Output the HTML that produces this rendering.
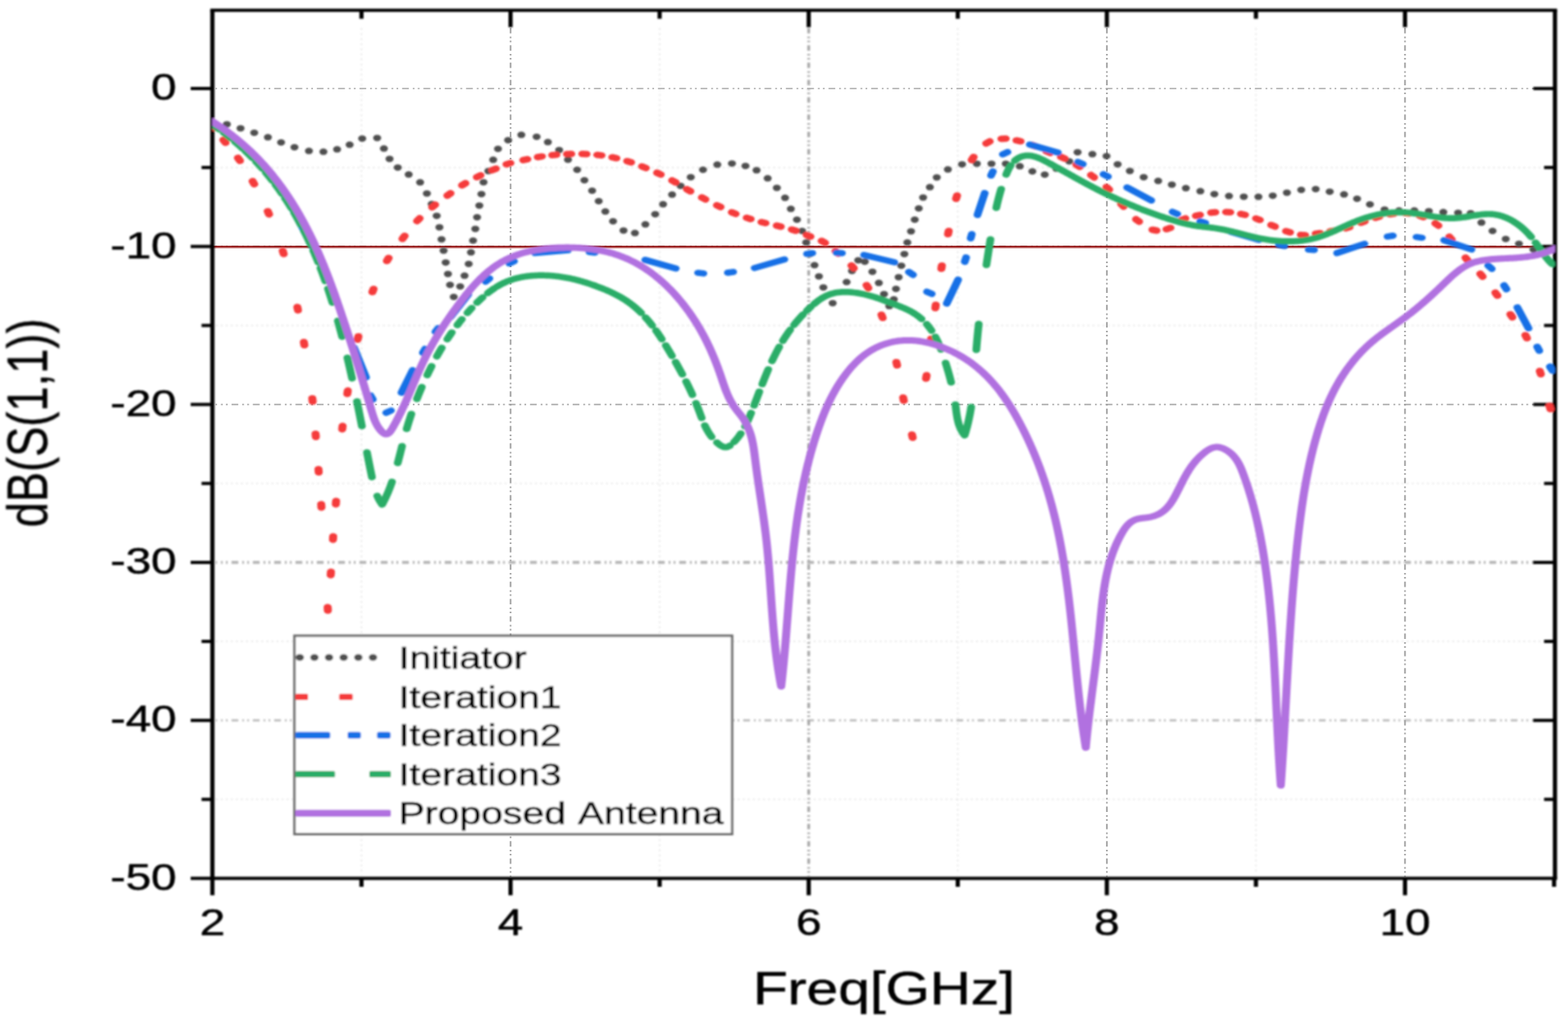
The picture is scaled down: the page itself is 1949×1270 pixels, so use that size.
<!DOCTYPE html>
<html lang="en"><head><meta charset="utf-8"><title>dB(S(1,1)) vs Freq[GHz]</title>
<style>
html,body{margin:0;padding:0;background:#fff;}
body{width:1949px;height:1270px;overflow:hidden;}
svg{display:block;}
#chart{width:1949px;height:1270px;}
</style></head><body>
<div id="chart">
<svg role="img" aria-label="Simulated return loss dB(S(1,1)) versus frequency" width="1949" height="1270" viewBox="0 0 1949 1270">
<rect width="100%" height="100%" fill="#fff"/>
<defs><filter id="soft" x="0" y="0" width="1949" height="1270" filterUnits="userSpaceOnUse"><feGaussianBlur stdDeviation="1"/></filter></defs>
<g fill="none" filter="url(#soft)">
<line x1="268.0" x2="1928.8" y1="208.15" y2="208.15" stroke="#eaeaea" stroke-width="2" stroke-dasharray="2.5 3.8"/>
<line x1="268.0" x2="1928.8" y1="404.45" y2="404.45" stroke="#eaeaea" stroke-width="2" stroke-dasharray="2.5 3.8"/>
<line x1="268.0" x2="1928.8" y1="600.75" y2="600.75" stroke="#eaeaea" stroke-width="2" stroke-dasharray="2.5 3.8"/>
<line x1="268.0" x2="1928.8" y1="797.05" y2="797.05" stroke="#eaeaea" stroke-width="2" stroke-dasharray="2.5 3.8"/>
<line x1="268.0" x2="1928.8" y1="993.35" y2="993.35" stroke="#eaeaea" stroke-width="2" stroke-dasharray="2.5 3.8"/>
<line x1="449.3" x2="449.3" y1="34.8" y2="1087.5" stroke="#eaeaea" stroke-width="2" stroke-dasharray="2.5 3.8"/>
<line x1="819.9" x2="819.9" y1="34.8" y2="1087.5" stroke="#eaeaea" stroke-width="2" stroke-dasharray="2.5 3.8"/>
<line x1="1190.5" x2="1190.5" y1="34.8" y2="1087.5" stroke="#eaeaea" stroke-width="2" stroke-dasharray="2.5 3.8"/>
<line x1="1561.1" x2="1561.1" y1="34.8" y2="1087.5" stroke="#eaeaea" stroke-width="2" stroke-dasharray="2.5 3.8"/>
<line x1="268.0" x2="1906.8" y1="698.9" y2="698.9" stroke="#b6b6b6" stroke-width="3.6" stroke-dasharray="8.4 4.9 2.2 4 2.2 4.8" stroke-dashoffset="6.7"/>
<line x1="268.0" x2="1906.8" y1="895.2" y2="895.2" stroke="#bcbcbc" stroke-width="2.7" stroke-dasharray="8.4 4.9 2.2 4 2.2 4.8" stroke-dashoffset="6.7"/>
<line x1="1005.2" x2="1005.2" y1="34.8" y2="1089.5" stroke="#a8a8a8" stroke-width="3.4" stroke-dasharray="6.6 4.2 1.8 3.2 1.8 3.9"/>
</g>
<g fill="none">
<line x1="268.0" x2="1906.8" y1="110" y2="110" stroke="#a8a8a8" stroke-width="1.7" stroke-dasharray="8.4 4.9 2.2 4 2.2 4.8" stroke-dashoffset="6.7"/>
<line x1="268.0" x2="1906.8" y1="306.3" y2="306.3" stroke="#a8a8a8" stroke-width="1.7" stroke-dasharray="8.4 4.9 2.2 4 2.2 4.8" stroke-dashoffset="6.7"/>
<line x1="268.0" x2="1906.8" y1="502.6" y2="502.6" stroke="#a8a8a8" stroke-width="1.7" stroke-dasharray="8.4 4.9 2.2 4 2.2 4.8" stroke-dashoffset="6.7"/>
<line x1="634.6" x2="634.6" y1="34.8" y2="1089.5" stroke="#9c9c9c" stroke-width="1.9" stroke-dasharray="6.6 4.2 1.8 3.2 1.8 3.9"/>
<line x1="1375.8" x2="1375.8" y1="34.8" y2="1089.5" stroke="#9c9c9c" stroke-width="1.9" stroke-dasharray="6.6 4.2 1.8 3.2 1.8 3.9"/>
<line x1="1746.4" x2="1746.4" y1="34.8" y2="1089.5" stroke="#9c9c9c" stroke-width="1.9" stroke-dasharray="6.6 4.2 1.8 3.2 1.8 3.9"/>
</g>
<line x1="264.0" x2="1932.8" y1="308.2" y2="308.2" stroke="#e2b4b4" stroke-width="1.8"/>
<line x1="264.0" x2="1932.8" y1="306.5" y2="306.5" stroke="#8b0000" stroke-width="2.0"/>
<g filter="url(#soft)">
<g stroke="#000" fill="none" stroke-linecap="butt">
<line x1="261.4" x2="1935.3999999999999" y1="12.8" y2="12.8" stroke-width="4.0"/>
<line x1="237" x2="1935.3999999999999" y1="1091.5" y2="1091.5" stroke-width="4.0"/>
<line x1="264.0" x2="264.0" y1="12.8" y2="1091.5" stroke-width="5.2"/>
<line x1="1932.8" x2="1932.8" y1="12.8" y2="1091.5" stroke-width="5.2"/>
<line x1="264" x2="264" y1="1091.5" y2="1112.5" stroke-width="5.2"/>
<line x1="449.3" x2="449.3" y1="1091.5" y2="1102.0" stroke-width="5.2"/>
<line x1="449.3" x2="449.3" y1="12.8" y2="23.3" stroke-width="5.2"/>
<line x1="634.6" x2="634.6" y1="1091.5" y2="1112.5" stroke-width="5.2"/>
<line x1="634.6" x2="634.6" y1="12.8" y2="33.8" stroke-width="5.2"/>
<line x1="819.9" x2="819.9" y1="1091.5" y2="1102.0" stroke-width="5.2"/>
<line x1="819.9" x2="819.9" y1="12.8" y2="23.3" stroke-width="5.2"/>
<line x1="1005.2" x2="1005.2" y1="1091.5" y2="1112.5" stroke-width="5.2"/>
<line x1="1005.2" x2="1005.2" y1="12.8" y2="33.8" stroke-width="5.2"/>
<line x1="1190.5" x2="1190.5" y1="1091.5" y2="1102.0" stroke-width="5.2"/>
<line x1="1190.5" x2="1190.5" y1="12.8" y2="23.3" stroke-width="5.2"/>
<line x1="1375.8" x2="1375.8" y1="1091.5" y2="1112.5" stroke-width="5.2"/>
<line x1="1375.8" x2="1375.8" y1="12.8" y2="33.8" stroke-width="5.2"/>
<line x1="1561.1" x2="1561.1" y1="1091.5" y2="1102.0" stroke-width="5.2"/>
<line x1="1561.1" x2="1561.1" y1="12.8" y2="23.3" stroke-width="5.2"/>
<line x1="1746.4" x2="1746.4" y1="1091.5" y2="1112.5" stroke-width="5.2"/>
<line x1="1746.4" x2="1746.4" y1="12.8" y2="33.8" stroke-width="5.2"/>
<line x1="1931.7" x2="1931.7" y1="1091.5" y2="1102.0" stroke-width="5.2"/>
<line x1="237.0" x2="264.0" y1="110" y2="110" stroke-width="4.0"/>
<line x1="1905.8" x2="1932.8" y1="110" y2="110" stroke-width="4.0"/>
<line x1="250.5" x2="264.0" y1="208.15" y2="208.15" stroke-width="4.0"/>
<line x1="1919.3" x2="1932.8" y1="208.15" y2="208.15" stroke-width="4.0"/>
<line x1="237.0" x2="264.0" y1="306.3" y2="306.3" stroke-width="4.0"/>
<line x1="1905.8" x2="1932.8" y1="306.3" y2="306.3" stroke-width="4.0"/>
<line x1="250.5" x2="264.0" y1="404.45" y2="404.45" stroke-width="4.0"/>
<line x1="1919.3" x2="1932.8" y1="404.45" y2="404.45" stroke-width="4.0"/>
<line x1="237.0" x2="264.0" y1="502.6" y2="502.6" stroke-width="4.0"/>
<line x1="1905.8" x2="1932.8" y1="502.6" y2="502.6" stroke-width="4.0"/>
<line x1="250.5" x2="264.0" y1="600.75" y2="600.75" stroke-width="4.0"/>
<line x1="1919.3" x2="1932.8" y1="600.75" y2="600.75" stroke-width="4.0"/>
<line x1="237.0" x2="264.0" y1="698.9" y2="698.9" stroke-width="4.0"/>
<line x1="1905.8" x2="1932.8" y1="698.9" y2="698.9" stroke-width="4.0"/>
<line x1="250.5" x2="264.0" y1="797.05" y2="797.05" stroke-width="4.0"/>
<line x1="1919.3" x2="1932.8" y1="797.05" y2="797.05" stroke-width="4.0"/>
<line x1="237.0" x2="264.0" y1="895.2" y2="895.2" stroke-width="4.0"/>
<line x1="1905.8" x2="1932.8" y1="895.2" y2="895.2" stroke-width="4.0"/>
<line x1="250.5" x2="264.0" y1="993.35" y2="993.35" stroke-width="4.0"/>
<line x1="1919.3" x2="1932.8" y1="993.35" y2="993.35" stroke-width="4.0"/>
</g>
<clipPath id="plotclip"><rect x="211.20" y="0" width="1335.04" height="1270"/></clipPath>
<g transform="scale(1.25,1)" fill="none" stroke-linecap="round" stroke-linejoin="round" clip-path="url(#plotclip)">
<g fill="#505050" stroke="none">
<circle cx="225.60" cy="154.40" r="4.0"/>
<circle cx="239.20" cy="159.40" r="4.0"/>
<circle cx="252.80" cy="165.00" r="4.0"/>
<circle cx="266.40" cy="170.60" r="4.0"/>
<circle cx="279.52" cy="177.00" r="4.0"/>
<circle cx="292.80" cy="183.00" r="4.0"/>
<circle cx="307.20" cy="187.60" r="4.0"/>
<circle cx="321.60" cy="188.60" r="4.0"/>
<circle cx="335.20" cy="185.60" r="4.0"/>
<circle cx="347.68" cy="179.80" r="4.0"/>
<circle cx="360.16" cy="172.20" r="4.0"/>
<circle cx="375.04" cy="171.40" r="4.0"/>
<circle cx="381.76" cy="184.60" r="4.0"/>
<circle cx="387.36" cy="197.40" r="4.0"/>
<circle cx="395.52" cy="208.20" r="4.0"/>
<circle cx="406.40" cy="216.80" r="4.0"/>
<circle cx="417.76" cy="226.60" r="4.0"/>
<circle cx="424.48" cy="240.40" r="4.0"/>
<circle cx="429.28" cy="253.60" r="4.0"/>
<circle cx="434.24" cy="268.20" r="4.0"/>
<circle cx="436.96" cy="282.40" r="4.0"/>
<circle cx="439.04" cy="297.40" r="4.0"/>
<circle cx="441.12" cy="311.40" r="4.0"/>
<circle cx="443.20" cy="326.20" r="4.0"/>
<circle cx="445.44" cy="340.40" r="4.0"/>
<circle cx="447.52" cy="354.00" r="4.0"/>
<circle cx="451.20" cy="369.00" r="4.0"/>
<circle cx="457.60" cy="356.00" r="4.0"/>
<circle cx="461.92" cy="342.60" r="4.0"/>
<circle cx="466.08" cy="328.00" r="4.0"/>
<circle cx="468.32" cy="313.60" r="4.0"/>
<circle cx="470.40" cy="299.00" r="4.0"/>
<circle cx="472.64" cy="284.40" r="4.0"/>
<circle cx="474.40" cy="270.00" r="4.0"/>
<circle cx="476.64" cy="255.40" r="4.0"/>
<circle cx="478.72" cy="241.20" r="4.0"/>
<circle cx="480.80" cy="226.40" r="4.0"/>
<circle cx="485.60" cy="212.60" r="4.0"/>
<circle cx="490.40" cy="198.60" r="4.0"/>
<circle cx="495.20" cy="185.00" r="4.0"/>
<circle cx="505.28" cy="174.20" r="4.0"/>
<circle cx="518.40" cy="167.60" r="4.0"/>
<circle cx="533.60" cy="170.00" r="4.0"/>
<circle cx="544.80" cy="176.60" r="4.0"/>
<circle cx="556.00" cy="186.40" r="4.0"/>
<circle cx="564.80" cy="198.40" r="4.0"/>
<circle cx="573.92" cy="211.00" r="4.0"/>
<circle cx="581.12" cy="224.00" r="4.0"/>
<circle cx="588.80" cy="237.00" r="4.0"/>
<circle cx="595.36" cy="250.00" r="4.0"/>
<circle cx="601.92" cy="262.80" r="4.0"/>
<circle cx="609.60" cy="275.00" r="4.0"/>
<circle cx="620.00" cy="286.40" r="4.0"/>
<circle cx="631.36" cy="289.60" r="4.0"/>
<circle cx="641.76" cy="278.80" r="4.0"/>
<circle cx="651.52" cy="266.20" r="4.0"/>
<circle cx="659.36" cy="253.80" r="4.0"/>
<circle cx="668.32" cy="241.80" r="4.0"/>
<circle cx="676.80" cy="231.00" r="4.0"/>
<circle cx="686.88" cy="220.20" r="4.0"/>
<circle cx="699.04" cy="211.00" r="4.0"/>
<circle cx="713.28" cy="204.60" r="4.0"/>
<circle cx="727.84" cy="203.20" r="4.0"/>
<circle cx="741.28" cy="206.20" r="4.0"/>
<circle cx="752.32" cy="211.60" r="4.0"/>
<circle cx="763.36" cy="221.60" r="4.0"/>
<circle cx="772.48" cy="233.40" r="4.0"/>
<circle cx="780.64" cy="245.80" r="4.0"/>
<circle cx="786.40" cy="259.60" r="4.0"/>
<circle cx="792.48" cy="273.00" r="4.0"/>
<circle cx="797.60" cy="287.00" r="4.0"/>
<circle cx="801.68" cy="301.30" r="4.0"/>
<circle cx="805.60" cy="315.50" r="4.0"/>
<circle cx="809.92" cy="329.50" r="4.0"/>
<circle cx="814.32" cy="343.40" r="4.0"/>
<circle cx="818.72" cy="357.20" r="4.0"/>
<circle cx="828.00" cy="376.70" r="4.0"/>
<circle cx="841.84" cy="350.50" r="4.0"/>
<circle cx="847.20" cy="336.70" r="4.0"/>
<circle cx="853.44" cy="323.40" r="4.0"/>
<circle cx="859.92" cy="325.20" r="4.0"/>
<circle cx="867.52" cy="337.70" r="4.0"/>
<circle cx="873.92" cy="351.60" r="4.0"/>
<circle cx="879.04" cy="365.40" r="4.0"/>
<circle cx="884.32" cy="380.30" r="4.0"/>
<circle cx="888.80" cy="372.00" r="4.0"/>
<circle cx="890.96" cy="359.00" r="4.0"/>
<circle cx="893.60" cy="344.40" r="4.0"/>
<circle cx="896.24" cy="330.20" r="4.0"/>
<circle cx="899.28" cy="315.70" r="4.0"/>
<circle cx="902.24" cy="301.30" r="4.0"/>
<circle cx="905.92" cy="287.40" r="4.0"/>
<circle cx="909.60" cy="273.00" r="4.0"/>
<circle cx="913.60" cy="259.00" r="4.0"/>
<circle cx="917.92" cy="245.40" r="4.0"/>
<circle cx="924.64" cy="232.60" r="4.0"/>
<circle cx="931.52" cy="220.40" r="4.0"/>
<circle cx="942.56" cy="210.60" r="4.0"/>
<circle cx="956.64" cy="204.20" r="4.0"/>
<circle cx="971.36" cy="203.40" r="4.0"/>
<circle cx="985.92" cy="203.40" r="4.0"/>
<circle cx="1000.16" cy="203.40" r="4.0"/>
<circle cx="1014.08" cy="206.60" r="4.0"/>
<circle cx="1026.56" cy="213.00" r="4.0"/>
<circle cx="1038.88" cy="217.00" r="4.0"/>
<circle cx="1050.40" cy="209.60" r="4.0"/>
<circle cx="1063.20" cy="200.40" r="4.0"/>
<circle cx="1071.52" cy="189.20" r="4.0"/>
<circle cx="1086.24" cy="191.60" r="4.0"/>
<circle cx="1100.32" cy="194.00" r="4.0"/>
<circle cx="1111.36" cy="204.20" r="4.0"/>
<circle cx="1123.52" cy="212.40" r="4.0"/>
<circle cx="1137.28" cy="220.20" r="4.0"/>
<circle cx="1151.68" cy="224.80" r="4.0"/>
<circle cx="1165.28" cy="229.40" r="4.0"/>
<circle cx="1179.20" cy="233.80" r="4.0"/>
<circle cx="1193.60" cy="237.60" r="4.0"/>
<circle cx="1207.52" cy="241.20" r="4.0"/>
<circle cx="1222.08" cy="243.60" r="4.0"/>
<circle cx="1236.80" cy="244.40" r="4.0"/>
<circle cx="1251.36" cy="244.60" r="4.0"/>
<circle cx="1265.60" cy="243.20" r="4.0"/>
<circle cx="1279.68" cy="239.40" r="4.0"/>
<circle cx="1293.92" cy="236.00" r="4.0"/>
<circle cx="1308.32" cy="235.00" r="4.0"/>
<circle cx="1322.24" cy="238.20" r="4.0"/>
<circle cx="1336.48" cy="241.60" r="4.0"/>
<circle cx="1349.44" cy="247.00" r="4.0"/>
<circle cx="1362.24" cy="254.00" r="4.0"/>
<circle cx="1376.80" cy="260.40" r="4.0"/>
<circle cx="1391.20" cy="261.50" r="4.0"/>
<circle cx="1406.40" cy="261.50" r="4.0"/>
<circle cx="1420.80" cy="262.40" r="4.0"/>
<circle cx="1435.20" cy="263.60" r="4.0"/>
<circle cx="1449.92" cy="264.40" r="4.0"/>
<circle cx="1462.40" cy="265.00" r="4.0"/>
<circle cx="1473.12" cy="276.60" r="4.0"/>
<circle cx="1484.16" cy="287.00" r="4.0"/>
<circle cx="1497.28" cy="297.00" r="4.0"/>
<circle cx="1510.40" cy="303.00" r="4.0"/>
<circle cx="1524.80" cy="310.00" r="4.0"/>
<circle cx="1539.20" cy="311.00" r="4.0"/>
</g>
<g stroke="#f53b3b" stroke-width="8.0">
<path d="M210.92,155.20L213.08,158.80"/>
<path d="M222.09,173.82L224.31,177.38"/>
<path d="M236.56,196.17L238.64,199.83"/>
<path d="M251.14,225.08L252.86,228.92"/>
<path d="M266.19,262.42L267.57,266.38"/>
<path d="M281.09,311.56L282.11,315.64"/>
<path d="M295.64,381.53L296.36,385.67"/>
<path d="M302.12,424.92L302.68,429.08"/>
<path d="M310.52,494.91L310.92,499.09"/>
<path d="M313.78,538.90L314.06,543.10"/>
<path d="M316.67,582.90L316.93,587.10"/>
<path d="M319.40,626.50L319.64,630.70"/>
<path d="M325.82,754.50L326.02,758.70"/>
<path d="M328.83,714.70L329.09,710.50"/>
<path d="M331.08,670.70L331.32,666.50"/>
<path d="M333.94,626.70L334.22,622.50"/>
<path d="M340.29,533.49L340.67,529.31"/>
<path d="M345.32,489.48L345.88,485.32"/>
<path d="M355.58,422.06L356.42,417.94"/>
<path d="M370.25,363.00L371.51,359.00"/>
<path d="M384.70,324.30L386.50,320.50"/>
<path d="M400.17,296.79L402.39,293.21"/>
<path d="M414.71,274.66L417.29,271.34"/>
<path d="M429.74,257.51L432.66,254.49"/>
<path d="M444.84,243.01L447.96,240.19"/>
<path d="M459.45,230.27L462.79,227.73"/>
<path d="M474.21,220.09L477.79,217.91"/>
<path d="M489.34,211.58L493.06,209.62"/>
<path d="M503.65,204.17L507.55,202.63"/>
<path d="M520.37,198.95L524.43,197.85"/>
<path d="M534.74,195.21L538.86,194.39"/>
<path d="M549.11,192.84L553.29,192.36"/>
<path d="M563.82,191.49L568.02,191.31"/>
<path d="M579.02,191.30L583.22,191.50"/>
<path d="M593.92,192.48L598.08,193.12"/>
<path d="M608.86,195.44L612.90,196.56"/>
<path d="M623.65,200.22L627.55,201.78"/>
<path d="M638.44,206.86L642.20,208.74"/>
<path d="M653.39,214.73L657.01,216.87"/>
<path d="M668.36,224.20L671.80,226.60"/>
<path d="M683.09,235.18L686.51,237.62"/>
<path d="M697.93,245.44L701.43,247.76"/>
<path d="M712.93,255.11L716.51,257.29"/>
<path d="M727.73,263.85L731.47,265.75"/>
<path d="M742.53,270.62L746.43,272.18"/>
<path d="M757.20,275.96L761.20,277.24"/>
<path d="M772.40,280.37L776.40,281.63"/>
<path d="M787.33,285.21L791.23,286.79"/>
<path d="M802.12,292.07L805.88,293.93"/>
<path d="M817.01,299.38L820.43,301.82"/>
<path d="M830.79,312.08L833.69,315.12"/>
<path d="M846.61,329.90L849.07,333.30"/>
<path d="M861.63,354.32L863.49,358.08"/>
<path d="M876.48,391.10L877.76,395.10"/>
<path d="M891.27,449.94L892.09,454.06"/>
<path d="M898.04,493.93L898.76,498.07"/>
<path d="M906.81,539.94L907.59,544.06"/>
<path d="M920.82,470.48L921.42,466.32"/>
<path d="M925.38,425.09L925.82,420.91"/>
<path d="M930.08,382.89L930.56,378.71"/>
<path d="M936.03,334.08L936.61,329.92"/>
<path d="M942.69,291.07L943.39,286.93"/>
<path d="M950.68,247.03L951.72,242.97"/>
<path d="M966.22,198.86L968.18,195.14"/>
<path d="M980.67,178.19L984.13,175.81"/>
<path d="M995.82,172.52L1000.02,172.28"/>
<path d="M1010.78,174.43L1014.82,175.57"/>
<path d="M1026.10,180.10L1029.90,181.90"/>
<path d="M1040.54,188.03L1044.26,189.97"/>
<path d="M1054.97,194.96L1058.63,197.04"/>
<path d="M1070.34,204.72L1073.66,207.28"/>
<path d="M1084.87,217.56L1087.93,220.44"/>
<path d="M1100.25,232.39L1102.95,235.61"/>
<path d="M1114.75,253.31L1117.25,256.69"/>
<path d="M1129.68,272.56L1132.72,275.44"/>
<path d="M1145.96,285.50L1150.04,286.50"/>
<path d="M1159.99,284.82L1163.85,283.18"/>
<path d="M1174.95,273.39L1178.65,271.41"/>
<path d="M1189.18,268.17L1193.22,267.03"/>
<path d="M1204.32,264.27L1208.48,263.73"/>
<path d="M1219.19,263.43L1223.37,263.77"/>
<path d="M1233.99,265.81L1238.01,266.99"/>
<path d="M1248.98,271.50L1252.78,273.30"/>
<path d="M1264.06,279.63L1267.78,281.57"/>
<path d="M1278.84,287.26L1282.76,288.74"/>
<path d="M1293.58,291.87L1297.78,292.13"/>
<path d="M1308.33,290.36L1312.47,289.64"/>
<path d="M1322.76,287.48L1326.84,286.52"/>
<path d="M1338.02,283.71L1341.98,282.29"/>
<path d="M1353.28,276.84L1357.12,275.16"/>
<path d="M1367.62,270.69L1371.58,269.31"/>
<path d="M1381.93,266.35L1386.07,265.65"/>
<path d="M1397.11,264.78L1401.29,265.22"/>
<path d="M1411.69,268.13L1415.51,269.87"/>
<path d="M1427.25,277.59L1430.35,280.41"/>
<path d="M1441.19,294.28L1443.61,297.72"/>
<path d="M1457.23,320.26L1459.57,323.74"/>
<path d="M1471.94,340.27L1474.30,343.73"/>
<path d="M1486.93,363.79L1489.07,367.41"/>
<path d="M1501.85,390.57L1503.91,394.23"/>
<path d="M1516.76,416.47L1518.44,420.33"/>
<path d="M1531.14,460.97L1532.22,465.03"/>
<path d="M1540.83,504.35L1541.73,508.45"/>
</g>
<g stroke="#176fe6" stroke-width="7.7">
<path d="M211.20,152.00L240.00,180.00"/>
<path d="M255.93,200.88L259.27,205.12"/>
<path d="M273.11,225.63L275.69,230.37"/>
<path d="M289.60,256.00L310.40,306.00"/>
<path d="M320.67,332.47L322.53,337.53"/>
<path d="M331.99,367.42L333.61,372.58"/>
<path d="M352.00,432.00L364.00,469.00"/>
<path d="M368.46,491.55L370.74,496.45"/>
<path d="M384.05,512.93L388.75,510.27"/>
<path d="M399.20,488.00L410.40,460.00"/>
<path d="M420.47,438.45L422.73,433.55"/>
<path d="M432.96,412.29L435.84,407.71"/>
<path d="M448.00,394.00L465.60,366.00"/>
<path d="M482.93,349.94L486.67,346.06"/>
<path d="M506.44,327.31L511.16,324.69"/>
<path d="M532.00,314.50L564.80,311.00"/>
<path d="M586.13,313.22L591.47,313.98"/>
<path d="M641.60,323.00L672.00,333.60"/>
<path d="M694.13,339.01L699.47,339.79"/>
<path d="M723.74,338.86L729.06,337.94"/>
<path d="M750.40,333.00L780.00,322.40"/>
<path d="M802.47,315.51L807.77,314.49"/>
<path d="M831.87,314.05L837.25,314.55"/>
<path d="M859.28,316.90L889.28,325.90"/>
<path d="M903.78,338.05L907.90,341.55"/>
<path d="M921.79,362.61L926.53,365.19"/>
<path d="M941.44,377.20L952.80,347.50"/>
<path d="M959.29,325.21L960.71,319.99"/>
<path d="M965.17,296.23L966.35,290.97"/>
<path d="M972.00,267.00L979.20,240.00"/>
<path d="M985.44,218.12L987.36,213.08"/>
<path d="M997.21,191.79L1001.83,189.01"/>
<path d="M1024.00,179.60L1052.00,189.60"/>
<path d="M1072.03,201.31L1076.77,203.89"/>
<path d="M1097.26,216.52L1101.78,219.48"/>
<path d="M1120.80,233.00L1144.80,249.00"/>
<path d="M1165.96,263.29L1170.68,265.91"/>
<path d="M1193.50,274.98L1198.50,277.02"/>
<path d="M1224.00,288.00L1252.00,298.00"/>
<path d="M1271.79,304.31L1277.01,305.69"/>
<path d="M1301.30,310.26L1306.70,310.54"/>
<path d="M1329.60,314.40L1356.80,303.00"/>
<path d="M1379.75,293.93L1385.05,292.87"/>
<path d="M1408.53,294.57L1413.87,295.43"/>
<path d="M1436.00,298.60L1463.20,310.00"/>
<path d="M1479.80,329.99L1483.40,334.01"/>
<path d="M1495.55,354.61L1498.05,359.39"/>
<path d="M1508.80,382.00L1520.00,408.00"/>
<path d="M1528.50,430.93L1530.70,435.87"/>
<path d="M1541.15,455.60L1543.65,460.40"/>
</g>
<g stroke="#2aad67" stroke-width="7.7">
<path d="M211.49,155.09 L212.43,155.89 L213.36,156.69 L214.29,157.50 L215.21,158.31 L216.13,159.12 L217.05,159.94 L217.96,160.76"/>
<path d="M222.44,164.91 L223.33,165.75 L224.21,166.59 L225.08,167.44 L225.95,168.29 L226.82,169.14 L227.68,169.99 L228.54,170.85 L229.39,171.71"/>
<path d="M233.59,176.07 L234.42,176.95 L235.24,177.83 L236.06,178.71 L236.88,179.60 L237.69,180.49 L238.50,181.39 L239.30,182.29 L240.10,183.19 L240.89,184.09"/>
<path d="M244.03,187.73 L244.80,188.65 L245.57,189.57 L246.34,190.49 L247.10,191.41 L247.86,192.34 L248.61,193.27 L249.36,194.21 L250.11,195.14 L250.85,196.08"/>
<path d="M254.50,200.82 L255.22,201.77 L255.94,202.73 L256.65,203.69 L257.36,204.65 L258.06,205.62 L258.76,206.59 L259.46,207.56 L260.15,208.53 L260.84,209.50"/>
<path d="M264.23,214.41 L264.90,215.40 L265.56,216.40 L266.22,217.39 L266.88,218.39 L267.53,219.39 L268.18,220.39 L268.82,221.39 L269.47,222.40 L270.10,223.40 L270.74,224.41"/>
<path d="M273.86,229.50 L274.48,230.52 L275.09,231.55 L275.69,232.57 L276.30,233.60 L276.90,234.64 L277.50,235.67 L278.09,236.71 L278.68,237.74 L279.27,238.78 L279.85,239.83 L280.43,240.87"/>
<path d="M283.29,246.12 L283.85,247.18 L284.41,248.23 L284.96,249.29 L285.51,250.36 L286.06,251.42 L286.61,252.48 L287.15,253.55 L287.69,254.62 L288.23,255.69 L288.76,256.76 L289.29,257.84 L289.82,258.91"/>
<path d="M292.41,264.32 L292.92,265.40 L293.43,266.49 L293.93,267.58 L294.43,268.67 L294.93,269.76 L295.42,270.86 L295.92,271.95 L296.41,273.05 L296.89,274.15 L297.38,275.25 L297.86,276.35 L298.33,277.45 L298.81,278.56 L299.28,279.66"/>
<path d="M302.06,286.33 L302.51,287.45 L302.97,288.56 L303.41,289.68 L303.86,290.80 L304.30,291.92 L304.74,293.05 L305.18,294.17 L305.62,295.29 L306.05,296.42 L306.48,297.55 L306.91,298.68 L307.33,299.81 L307.76,300.94 L308.18,302.07 L308.60,303.20 L309.01,304.34"/>
<path d="M311.46,311.17 L311.85,312.31 L312.25,313.45 L312.65,314.60 L313.04,315.74 L313.43,316.89 L313.81,318.03 L314.20,319.18 L314.58,320.33 L314.96,321.48 L315.34,322.63 L315.72,323.78 L316.09,324.93 L316.46,326.09"/>
<path d="M318.65,333.02 L319.01,334.18 L319.37,335.34 L319.72,336.50 L320.07,337.66 L320.42,338.82 L320.77,339.98 L321.11,341.14 L321.45,342.31 L321.80,343.47 L322.14,344.63 L322.47,345.80 L322.81,346.97 L323.14,348.13 L323.47,349.30"/>
<path d="M326.06,358.65 L326.38,359.82 L326.69,360.99 L327.00,362.16 L327.31,363.33 L327.62,364.51 L327.93,365.68 L328.24,366.85 L328.54,368.02 L328.84,369.20 L329.14,370.37 L329.44,371.55 L329.74,372.72 L330.03,373.89 L330.33,375.07 L330.62,376.24"/>
<path d="M335.91,398.58 L336.17,399.76 L336.44,400.93 L336.70,402.11 L336.96,403.28 L337.22,404.46 L337.48,405.64 L337.74,406.81 L337.99,407.99 L338.25,409.16 L338.50,410.34 L338.75,411.51 L339.01,412.69 L339.26,413.86 L339.51,415.04 L339.75,416.21 L340.00,417.39 L340.25,418.56"/>
<path d="M345.40,444.41 L345.62,445.59 L345.85,446.77 L346.07,447.94 L346.29,449.12 L346.51,450.30 L346.73,451.47 L346.95,452.65 L347.16,453.83 L347.38,455.00 L347.60,456.18 L347.81,457.36 L348.03,458.53 L348.24,459.71 L348.45,460.89 L348.66,462.07 L348.88,463.25 L349.09,464.42 L349.30,465.60 L349.50,466.78 L349.71,467.96 L349.92,469.14 L350.13,470.32"/>
<path d="M354.93,498.70 L355.12,499.88 L355.31,501.07 L355.51,502.25 L355.70,503.44 L355.89,504.63 L356.08,505.82 L356.27,507.00 L356.47,508.19 L356.66,509.38 L356.85,510.57 L357.04,511.76 L357.23,512.95 L357.42,514.14 L357.61,515.33 L357.79,516.52 L357.98,517.71 L358.17,518.90 L358.36,520.10 L358.55,521.29 L358.73,522.48 L358.92,523.68 L359.11,524.87 L359.30,526.06 L359.48,527.26 L359.67,528.45 L359.86,529.65"/>
<path d="M364.88,562.02 L365.06,563.22 L365.25,564.42 L365.44,565.62 L365.63,566.81 L365.82,568.01 L366.01,569.21 L366.20,570.41 L366.39,571.60 L366.58,572.80 L366.77,574.00 L366.96,575.19 L367.15,576.39 L367.34,577.58 L367.53,578.77 L367.73,579.97 L367.92,581.16 L368.11,582.35 L368.31,583.54 L368.50,584.73 L368.70,585.92 L368.89,587.11 L369.09,588.30 L369.29,589.49 L369.48,590.68 L369.68,591.86 L369.88,593.05"/>
<path d="M375.13,616.22 L375.52,617.33 L375.93,618.44 L376.36,619.53 L376.81,620.62 L377.29,621.71 L377.78,622.78 L378.30,623.85 L378.84,624.91 L379.41,625.96 L380.00,627.00 L380.48,625.89 L380.95,624.77 L381.41,623.65 L381.87,622.53 L382.31,621.41 L382.75,620.29 L383.18,619.17 L383.61,618.04 L384.03,616.91 L384.44,615.78 L384.84,614.65 L385.24,613.52 L385.63,612.38 L386.01,611.25 L386.39,610.11 L386.76,608.97 L387.12,607.83 L387.48,606.69 L387.84,605.55 L388.18,604.40 L388.53,603.25 L388.86,602.11 L389.19,600.96 L389.52,599.81 L389.84,598.66"/>
<path d="M395.46,575.42 L395.71,574.25 L395.96,573.08 L396.21,571.90 L396.46,570.73 L396.70,569.56 L396.94,568.39 L397.19,567.21 L397.43,566.04 L397.67,564.86 L397.91,563.69 L398.15,562.51 L398.38,561.34 L398.62,560.16 L398.86,558.98 L399.10,557.81 L399.34,556.63 L399.58,555.45 L399.82,554.27"/>
<path d="M404.36,533.09 L404.63,531.91 L404.91,530.74 L405.19,529.56 L405.47,528.39 L405.76,527.22 L406.05,526.04 L406.34,524.87 L406.63,523.70 L406.93,522.53 L407.23,521.35 L407.54,520.18 L407.84,519.01 L408.15,517.85 L408.46,516.68 L408.78,515.51 L409.09,514.34"/>
<path d="M414.55,495.77 L414.91,494.62 L415.28,493.46 L415.65,492.31 L416.02,491.16 L416.39,490.01 L416.77,488.87 L417.15,487.72 L417.53,486.57 L417.91,485.43 L418.30,484.29 L418.69,483.14 L419.08,482.00 L419.47,480.86"/>
<path d="M424.81,466.17 L425.24,465.05 L425.67,463.93 L426.10,462.81 L426.54,461.70 L426.98,460.58 L427.42,459.47 L427.86,458.36 L428.30,457.25 L428.75,456.14 L429.20,455.03"/>
<path d="M434.35,442.97 L434.83,441.88 L435.32,440.79 L435.81,439.71 L436.31,438.63 L436.81,437.55 L437.31,436.47 L437.82,435.39 L438.33,434.32 L438.84,433.24 L439.36,432.17"/>
<path d="M444.73,421.54 L445.29,420.49 L445.85,419.44 L446.41,418.39 L446.98,417.34 L447.56,416.29 L448.14,415.25 L448.72,414.21 L449.31,413.16"/>
<path d="M454.79,403.88 L455.42,402.86 L456.06,401.84 L456.70,400.82 L457.35,399.80 L458.00,398.79 L458.65,397.77 L459.31,396.76"/>
<path d="M464.78,388.74 L465.48,387.75 L466.20,386.76 L466.91,385.77 L467.64,384.78 L468.36,383.80 L469.10,382.81"/>
<path d="M474.39,376.01 L475.17,375.06 L475.95,374.11 L476.75,373.17 L477.54,372.23 L478.35,371.30 L479.16,370.38 L479.98,369.47"/>
<path d="M485.04,364.18 L485.91,363.33 L486.79,362.50 L487.67,361.67 L488.56,360.86 L489.46,360.07 L490.37,359.28 L491.28,358.51"/>
<path d="M494.08,356.29 L495.02,355.57 L495.98,354.88 L496.95,354.20 L497.92,353.54 L498.90,352.89 L499.89,352.26 L500.89,351.65 L501.90,351.06 L502.92,350.49 L503.95,349.94 L504.98,349.40 L506.03,348.89 L507.09,348.40 L508.15,347.93 L509.22,347.47 L510.31,347.04 L511.40,346.63 L512.49,346.24 L513.60,345.86 L514.71,345.51 L515.83,345.17 L516.96,344.86 L518.10,344.56 L519.24,344.28 L520.39,344.02 L521.54,343.78 L522.70,343.55 L523.86,343.35 L525.03,343.16 L526.20,342.99 L527.38,342.83 L528.57,342.69 L529.75,342.57 L530.94,342.47 L532.14,342.38 L533.33,342.31 L534.53,342.25 L535.74,342.21 L536.94,342.19 L538.15,342.18 L539.36,342.18 L540.57,342.20 L541.78,342.24 L542.99,342.29 L544.21,342.35 L545.42,342.43 L546.64,342.53 L547.85,342.63 L549.07,342.76 L550.28,342.89 L551.49,343.04 L552.70,343.20 L553.92,343.37 L555.12,343.56 L556.33,343.76 L557.54,343.97 L558.74,344.19 L559.94,344.43 L561.13,344.68 L562.33,344.94 L563.52,345.21 L564.70,345.49 L565.88,345.78 L567.06,346.09 L568.23,346.40 L569.40,346.73 L570.57,347.06 L571.72,347.41 L572.88,347.76 L574.03,348.13 L575.17,348.51 L576.32,348.89 L577.45,349.28 L578.59,349.68 L579.72,350.10 L580.84,350.51 L581.97,350.94 L583.08,351.38 L584.20,351.82 L585.31,352.27 L586.42,352.73 L587.53,353.20 L588.63,353.67 L589.74,354.15 L590.84,354.64 L591.93,355.13 L593.03,355.63 L594.12,356.14 L595.21,356.65 L596.29,357.17 L597.38,357.70 L598.46,358.23 L599.53,358.77 L600.61,359.32 L601.67,359.87 L602.74,360.44 L603.80,361.01 L604.85,361.59 L605.90,362.17 L606.94,362.77 L607.98,363.37 L609.01,363.99 L610.03,364.61 L611.05,365.24 L612.06,365.88 L613.06,366.52 L614.06,367.18 L615.05,367.85 L616.03,368.53 L617.00,369.21 L617.97,369.91 L618.92,370.62 L619.87,371.33 L620.81,372.06 L621.74,372.80 L622.66,373.55 L623.56,374.31 L624.46,375.08 L625.35,375.86 L626.23,376.66 L627.10,377.46 L627.96,378.27 L628.81,379.10 L629.65,379.93 L630.48,380.78 L631.30,381.63 L632.11,382.49 L632.91,383.37 L633.71,384.25 L634.49,385.14 L635.27,386.04 L636.04,386.95 L636.80,387.86 L637.55,388.79"/>
<path d="M641.90,394.50 L642.60,395.47 L643.29,396.45 L643.97,397.44 L644.65,398.44 L645.32,399.44 L645.99,400.45 L646.65,401.46 L647.30,402.48 L647.94,403.50 L648.58,404.53"/>
<path d="M652.31,410.81 L652.91,411.86 L653.51,412.93 L654.10,413.99 L654.69,415.06 L655.27,416.14 L655.85,417.21 L656.42,418.29 L656.99,419.37 L657.56,420.46 L658.12,421.54"/>
<path d="M661.96,429.18 L662.50,430.28 L663.04,431.37 L663.57,432.47 L664.10,433.56 L664.62,434.66 L665.15,435.75 L665.67,436.85 L666.19,437.94 L666.71,439.04 L667.23,440.13 L667.74,441.22 L668.26,442.31"/>
<path d="M671.79,449.95 L672.29,451.04 L672.78,452.13 L673.28,453.22 L673.77,454.31 L674.25,455.40 L674.74,456.49 L675.22,457.58 L675.70,458.68 L676.18,459.77 L676.66,460.86 L677.13,461.95 L677.60,463.04 L678.07,464.14 L678.54,465.23"/>
<path d="M682.18,474.01 L682.63,475.11 L683.07,476.22 L683.51,477.32 L683.94,478.43 L684.38,479.53 L684.81,480.64 L685.23,481.75 L685.66,482.86 L686.08,483.97 L686.50,485.08 L686.92,486.20 L687.33,487.31 L687.74,488.43 L688.15,489.55 L688.55,490.67"/>
<path d="M692.06,500.85 L692.44,501.99 L692.81,503.13 L693.18,504.28 L693.54,505.43 L693.90,506.58 L694.26,507.73 L694.62,508.89 L694.97,510.04 L695.32,511.20 L695.67,512.37 L696.01,513.53 L696.36,514.70 L696.70,515.86 L697.05,517.03 L697.40,518.19 L697.76,519.36"/>
<path d="M700.83,528.60 L701.26,529.74 L701.70,530.88 L702.16,532.01 L702.62,533.13 L703.11,534.25 L703.61,535.36 L704.13,536.46 L704.67,537.56 L705.23,538.65 L705.80,539.73 L706.40,540.80 L707.02,541.86 L707.67,542.91"/>
<path d="M712.90,549.96 L713.77,550.92 L714.65,551.84 L715.56,552.71 L716.49,553.51 L717.43,554.21 L718.38,554.81 L719.33,555.27 L720.29,555.59 L721.23,555.73 L722.17,555.69 L723.10,555.46 L724.02,555.06 L724.92,554.52 L725.80,553.84"/>
<path d="M729.96,549.23 L730.72,548.20 L731.47,547.16 L732.19,546.11 L732.90,545.06 L733.58,544.01 L734.24,542.95 L734.88,541.89 L735.51,540.82 L736.11,539.75 L736.70,538.67"/>
<path d="M740.87,529.93 L741.33,528.82 L741.78,527.71 L742.22,526.60 L742.65,525.48 L743.07,524.36 L743.49,523.24 L743.89,522.12 L744.29,520.99 L744.68,519.86 L745.07,518.73 L745.45,517.60 L745.83,516.46 L746.20,515.33 L746.57,514.19 L746.94,513.05"/>
<path d="M749.82,503.90 L750.17,502.75 L750.53,501.60 L750.88,500.45 L751.24,499.29 L751.59,498.14 L751.94,496.99 L752.30,495.84 L752.65,494.68 L753.00,493.53 L753.35,492.37 L753.71,491.22 L754.06,490.06 L754.41,488.91 L754.77,487.75 L755.12,486.60"/>
<path d="M757.98,477.36 L758.34,476.20 L758.70,475.05 L759.07,473.90 L759.44,472.74 L759.80,471.59 L760.17,470.44 L760.55,469.29 L760.92,468.14 L761.29,466.99 L761.67,465.84 L762.05,464.70 L762.43,463.55 L762.82,462.41 L763.21,461.26 L763.60,460.12 L763.99,458.98"/>
<path d="M767.65,448.77 L768.07,447.65 L768.50,446.52 L768.93,445.40 L769.36,444.28 L769.80,443.16 L770.24,442.05 L770.69,440.94 L771.14,439.82 L771.59,438.72 L772.05,437.61 L772.52,436.50 L772.98,435.40 L773.46,434.30 L773.93,433.21 L774.41,432.11 L774.90,431.02"/>
<path d="M778.45,423.46 L778.98,422.39 L779.51,421.32 L780.05,420.26 L780.60,419.20 L781.15,418.14 L781.71,417.09 L782.28,416.04 L782.85,415.00 L783.42,413.96 L784.01,412.92 L784.60,411.88 L785.19,410.85 L785.79,409.83"/>
<path d="M789.55,403.73 L790.19,402.73 L790.85,401.73 L791.51,400.73 L792.18,399.74 L792.85,398.75 L793.54,397.76 L794.23,396.78 L794.92,395.79 L795.62,394.82 L796.33,393.84 L797.05,392.87 L797.77,391.90 L798.50,390.94"/>
<path d="M802.26,386.16 L803.04,385.21 L803.82,384.27 L804.61,383.33 L805.40,382.39 L806.20,381.45"/>
<path d="M809.50,377.79 L810.34,376.90 L811.20,376.02 L812.07,375.16 L812.95,374.32 L813.84,373.49 L814.74,372.69 L815.65,371.91 L816.58,371.14 L817.52,370.41 L818.47,369.70 L819.43,369.02 L820.41,368.37 L821.41,367.75 L822.42,367.17 L823.44,366.61 L824.48,366.10 L825.54,365.62 L826.62,365.18 L827.71,364.79 L828.81,364.43 L829.94,364.11 L831.07,363.83 L832.22,363.58 L833.38,363.38 L834.56,363.20 L835.74,363.06 L836.93,362.96 L838.13,362.88 L839.34,362.84 L840.55,362.83 L841.77,362.84 L842.99,362.89 L844.22,362.96 L845.45,363.06 L846.68,363.18 L847.91,363.33 L849.14,363.50 L850.37,363.69 L851.59,363.90 L852.82,364.14 L854.03,364.39 L855.25,364.66 L856.45,364.95 L857.65,365.26 L858.85,365.58 L860.03,365.91 L861.20,366.26 L862.36,366.62 L863.51,367.00 L864.65,367.38 L865.78,367.78 L866.90,368.18 L868.01,368.60 L869.11,369.03 L870.21,369.46 L871.30,369.90 L872.38,370.35 L873.46,370.81 L874.54,371.28 L875.61,371.75 L876.68,372.23 L877.75,372.71 L878.82,373.20 L879.89,373.69 L880.96,374.19 L882.04,374.69 L883.11,375.20 L884.19,375.70 L885.27,376.21 L886.35,376.72 L887.45,377.24 L888.54,377.75 L889.64,378.27 L890.74,378.79 L891.84,379.32 L892.94,379.85 L894.04,380.39 L895.14,380.94 L896.23,381.49 L897.32,382.06 L898.40,382.63 L899.47,383.22 L900.54,383.82 L901.59,384.43 L902.64,385.05 L903.67,385.69 L904.69,386.34 L905.70,387.01 L906.69,387.69 L907.67,388.39 L908.62,389.11 L909.56,389.85 L910.48,390.61 L911.38,391.39 L912.27,392.19 L913.13,393.00 L913.98,393.83 L914.81,394.68 L915.62,395.54 L916.41,396.41"/>
<path d="M921.51,402.92 L922.17,403.89 L922.82,404.88 L923.46,405.87 L924.08,406.88 L924.68,407.89 L925.28,408.92 L925.85,409.95 L926.42,410.99"/>
<path d="M930.03,418.51 L930.51,419.61 L930.97,420.72 L931.42,421.84 L931.86,422.95 L932.29,424.08 L932.71,425.21 L933.12,426.35 L933.53,427.49 L933.92,428.63 L934.31,429.78 L934.69,430.93 L935.06,432.09 L935.43,433.24 L935.79,434.41"/>
<path d="M940.27,450.81 L940.56,451.98 L940.85,453.15 L941.14,454.32 L941.43,455.49 L941.71,456.66 L941.99,457.83 L942.27,459.00 L942.54,460.16 L942.82,461.33 L943.09,462.49 L943.35,463.66 L943.62,464.83 L943.88,465.99 L944.13,467.16 L944.39,468.32 L944.64,469.49 L944.88,470.65 L945.13,471.82 L945.37,472.99 L945.60,474.15 L945.84,475.32"/>
<path d="M950.05,502.53 L950.18,503.74 L950.30,504.95 L950.42,506.16 L950.54,507.37 L950.66,508.58 L950.78,509.79 L950.90,511.01 L951.03,512.22 L951.16,513.43 L951.30,514.64 L951.44,515.85 L951.59,517.05 L951.76,518.26 L951.93,519.46 L952.12,520.65 L952.32,521.84 L952.54,523.03 L952.78,524.21 L953.03,525.39 L953.30,526.56 L953.59,527.72 L953.91,528.88 L954.25,530.03 L954.61,531.17 L955.00,532.30 L955.42,533.42 L955.86,534.54 L956.33,535.64 L956.84,536.74 L957.38,537.82 L957.95,538.89 L958.56,539.95 L959.20,541.00 L959.50,539.83 L959.79,538.65 L960.07,537.48 L960.35,536.31 L960.62,535.13 L960.88,533.96 L961.14,532.78 L961.40,531.60 L961.65,530.42 L961.89,529.25 L962.13,528.07 L962.36,526.89 L962.59,525.71 L962.81,524.53 L963.03,523.35 L963.24,522.17 L963.44,520.98 L963.65,519.80 L963.84,518.62 L964.04,517.43 L964.22,516.25 L964.41,515.07 L964.59,513.88 L964.76,512.69 L964.93,511.51 L965.10,510.32 L965.26,509.13 L965.42,507.95 L965.57,506.76 L965.72,505.57"/>
<path d="M970.86,434.90 L970.93,433.70 L971.01,432.50 L971.08,431.30 L971.16,430.09 L971.24,428.89 L971.32,427.69 L971.40,426.49 L971.48,425.28 L971.57,424.08 L971.65,422.88 L971.74,421.67 L971.82,420.47 L971.91,419.27 L972.00,418.07 L972.09,416.86 L972.18,415.66 L972.27,414.46 L972.36,413.25 L972.46,412.05 L972.55,410.85 L972.65,409.65 L972.74,408.44 L972.84,407.24 L972.94,406.04 L973.04,404.84 L973.14,403.63 L973.24,402.43"/>
<path d="M980.87,329.34 L981.02,328.15 L981.16,326.96 L981.31,325.76 L981.45,324.57 L981.60,323.38 L981.75,322.19 L981.89,321.00 L982.04,319.81 L982.19,318.62 L982.34,317.43 L982.49,316.25 L982.64,315.06 L982.78,313.87 L982.93,312.68 L983.08,311.49 L983.24,310.31 L983.39,309.12 L983.54,307.93 L983.69,306.75 L983.84,305.56 L983.99,304.38 L984.15,303.19 L984.30,302.01 L984.45,300.82 L984.61,299.64 L984.76,298.45 L984.91,297.27"/>
<path d="M990.66,258.35 L990.88,257.17 L991.09,255.99 L991.31,254.81 L991.53,253.63 L991.75,252.46 L991.98,251.28 L992.21,250.10 L992.45,248.92 L992.69,247.74 L992.93,246.56 L993.18,245.38 L993.43,244.20 L993.69,243.01 L993.95,241.83 L994.21,240.65 L994.48,239.47 L994.75,238.29 L995.03,237.10 L995.31,235.92 L995.60,234.74"/>
<path d="M1000.54,216.93 L1000.92,215.74 L1001.31,214.55 L1001.71,213.37 L1002.12,212.20 L1002.56,211.04 L1003.01,209.89 L1003.48,208.75 L1003.98,207.64 L1004.51,206.54 L1005.06,205.46"/>
<path d="M1009.13,199.58 L1009.96,198.72 L1010.83,197.90 L1011.73,197.13 L1012.68,196.41 L1013.65,195.75 L1014.64,195.17 L1015.65,194.65 L1016.68,194.22 L1017.71,193.88 L1018.74,193.62 L1019.79,193.43 L1020.84,193.33 L1021.89,193.30 L1022.95,193.34 L1024.01,193.44 L1025.08,193.61 L1026.15,193.84 L1027.22,194.13 L1028.30,194.47 L1029.37,194.85 L1030.45,195.29 L1031.53,195.76 L1032.61,196.28 L1033.69,196.83 L1034.77,197.41 L1035.85,198.02 L1036.93,198.66 L1038.00,199.32 L1039.08,200.00 L1040.15,200.69 L1041.22,201.39 L1042.28,202.11 L1043.34,202.83 L1044.39,203.54 L1045.44,204.26 L1046.49,204.98 L1047.53,205.69 L1048.57,206.40 L1049.60,207.12 L1050.63,207.82 L1051.65,208.53 L1052.67,209.24 L1053.69,209.94 L1054.70,210.64 L1055.71,211.35 L1056.72,212.04 L1057.72,212.74 L1058.72,213.44 L1059.72,214.13 L1060.71,214.82 L1061.70,215.51 L1062.69,216.20 L1063.68,216.89 L1064.67,217.58 L1065.65,218.26 L1066.63,218.94 L1067.61,219.62 L1068.59,220.30 L1069.57,220.98 L1070.55,221.65 L1071.52,222.32 L1072.50,223.00 L1073.47,223.66 L1074.45,224.33 L1075.42,225.00 L1076.39,225.66 L1077.37,226.32 L1078.34,226.99 L1079.31,227.64 L1080.29,228.30 L1081.26,228.96 L1082.24,229.61 L1083.22,230.26 L1084.19,230.91 L1085.17,231.56 L1086.15,232.20 L1087.13,232.85 L1088.12,233.49 L1089.10,234.13 L1090.09,234.77 L1091.08,235.40 L1092.07,236.04 L1093.07,236.67 L1094.06,237.30 L1095.06,237.93 L1096.06,238.56 L1097.07,239.18 L1098.08,239.80 L1099.09,240.42 L1100.10,241.04 L1101.12,241.66 L1102.15,242.28 L1103.17,242.89 L1104.20,243.50 L1105.24,244.11 L1106.27,244.72 L1107.31,245.32 L1108.36,245.92 L1109.40,246.52 L1110.45,247.12 L1111.50,247.72 L1112.56,248.31 L1113.62,248.90 L1114.68,249.49 L1115.74,250.08 L1116.80,250.66 L1117.87,251.24 L1118.94,251.82 L1120.02,252.39 L1121.09,252.97 L1122.17,253.54 L1123.25,254.10 L1124.33,254.67 L1125.41,255.23 L1126.50,255.79 L1127.58,256.34 L1128.67,256.90 L1129.76,257.45 L1130.85,257.99 L1131.95,258.54 L1133.04,259.08 L1134.14,259.61 L1135.23,260.15 L1136.33,260.68 L1137.43,261.20 L1138.53,261.73 L1139.63,262.25 L1140.74,262.77 L1141.84,263.28 L1142.94,263.79 L1144.05,264.30 L1145.15,264.80 L1146.26,265.30 L1147.36,265.79 L1148.47,266.28 L1149.57,266.77 L1150.68,267.26 L1151.78,267.74 L1152.89,268.21 L1154.00,268.68 L1155.10,269.15 L1156.21,269.62 L1157.31,270.08 L1158.42,270.53 L1159.52,270.98 L1160.62,271.43 L1161.73,271.88 L1162.83,272.31 L1163.93,272.75 L1165.03,273.18 L1166.14,273.60 L1167.24,274.02 L1168.35,274.43 L1169.45,274.83 L1170.56,275.23 L1171.67,275.62 L1172.78,276.01 L1173.90,276.38 L1175.02,276.75 L1176.14,277.11 L1177.26,277.46 L1178.39,277.80 L1179.52,278.14 L1180.65,278.46 L1181.79,278.77 L1182.94,279.08 L1184.09,279.37 L1185.24,279.65 L1186.40,279.93 L1187.57,280.19 L1188.74,280.43 L1189.92,280.67 L1191.10,280.89 L1192.30,281.11 L1193.49,281.31 L1194.70,281.50 L1195.91,281.68 L1197.12,281.85 L1198.33,282.03 L1199.55,282.20 L1200.77,282.37 L1201.99,282.54 L1203.20,282.71 L1204.42,282.89 L1205.63,283.08 L1206.83,283.28 L1208.03,283.48 L1209.23,283.71 L1210.42,283.94 L1211.60,284.18 L1212.78,284.44 L1213.95,284.71 L1215.12,284.99 L1216.29,285.27 L1217.45,285.57 L1218.60,285.88 L1219.76,286.19 L1220.90,286.51 L1222.05,286.84 L1223.19,287.17 L1224.33,287.51 L1225.47,287.86 L1226.61,288.21 L1227.74,288.56 L1228.87,288.92 L1230.01,289.28 L1231.14,289.64 L1232.27,290.00 L1233.40,290.37 L1234.53,290.73 L1235.66,291.10 L1236.79,291.46 L1237.92,291.83 L1239.05,292.19 L1240.18,292.55 L1241.31,292.91 L1242.45,293.26 L1243.59,293.61 L1244.73,293.96 L1245.87,294.30 L1247.02,294.64 L1248.17,294.96 L1249.32,295.29 L1250.47,295.60 L1251.63,295.91 L1252.80,296.21 L1253.97,296.50 L1255.14,296.78 L1256.32,297.05 L1257.50,297.31 L1258.69,297.56 L1259.88,297.80 L1261.08,298.02 L1262.28,298.24 L1263.48,298.44 L1264.69,298.64 L1265.90,298.82 L1267.11,298.98 L1268.33,299.14 L1269.54,299.28 L1270.76,299.41 L1271.98,299.53 L1273.20,299.63 L1274.43,299.72 L1275.65,299.80 L1276.87,299.86 L1278.10,299.91 L1279.32,299.94 L1280.54,299.96 L1281.76,299.96 L1282.98,299.95 L1284.20,299.92 L1285.41,299.88 L1286.63,299.82 L1287.84,299.75 L1289.05,299.66 L1290.25,299.55 L1291.45,299.42 L1292.65,299.28 L1293.85,299.13 L1295.04,298.95 L1296.22,298.76 L1297.40,298.55 L1298.58,298.32 L1299.75,298.07 L1300.91,297.81 L1302.07,297.52 L1303.22,297.22 L1304.36,296.90 L1305.50,296.56 L1306.63,296.20 L1307.75,295.82 L1308.87,295.43 L1309.99,295.02 L1311.09,294.59 L1312.19,294.15 L1313.29,293.70 L1314.38,293.23 L1315.47,292.74 L1316.55,292.25 L1317.63,291.74 L1318.71,291.23 L1319.78,290.70 L1320.85,290.16 L1321.91,289.62 L1322.98,289.06 L1324.04,288.50 L1325.10,287.93 L1326.15,287.36 L1327.21,286.78 L1328.26,286.19 L1329.32,285.60 L1330.37,285.01 L1331.42,284.42 L1332.47,283.82 L1333.52,283.22 L1334.58,282.62 L1335.63,282.02 L1336.68,281.42 L1337.74,280.83 L1338.79,280.23 L1339.85,279.64 L1340.91,279.05 L1341.97,278.46 L1343.03,277.88 L1344.10,277.30 L1345.17,276.74 L1346.24,276.17 L1347.32,275.62 L1348.40,275.07 L1349.49,274.53 L1350.57,274.00 L1351.67,273.48 L1352.77,272.98 L1353.87,272.48 L1354.98,271.99 L1356.09,271.52 L1357.20,271.06 L1358.33,270.61 L1359.45,270.17 L1360.58,269.74 L1361.71,269.33 L1362.85,268.93 L1363.99,268.55 L1365.13,268.17 L1366.28,267.81 L1367.43,267.47 L1368.58,267.14 L1369.74,266.82 L1370.89,266.52 L1372.05,266.23 L1373.22,265.95 L1374.38,265.70 L1375.55,265.45 L1376.72,265.23 L1377.89,265.02 L1379.06,264.82 L1380.23,264.64 L1381.41,264.48 L1382.59,264.33 L1383.76,264.20 L1384.94,264.09 L1386.12,264.00 L1387.30,263.92 L1388.48,263.86 L1389.66,263.82 L1390.84,263.80 L1392.02,263.79 L1393.20,263.81 L1394.39,263.84 L1395.57,263.89 L1396.75,263.96 L1397.92,264.05 L1399.10,264.16 L1400.28,264.29 L1401.46,264.43 L1402.63,264.59 L1403.81,264.76 L1404.99,264.95 L1406.16,265.14 L1407.34,265.35 L1408.51,265.57 L1409.69,265.79 L1410.87,266.03 L1412.04,266.27 L1413.22,266.51 L1414.39,266.76 L1415.57,267.01 L1416.75,267.27 L1417.92,267.52 L1419.10,267.78 L1420.28,268.03 L1421.46,268.28 L1422.64,268.53 L1423.82,268.77 L1425.00,269.01 L1426.18,269.24 L1427.36,269.46 L1428.54,269.68 L1429.73,269.88 L1430.91,270.08 L1432.10,270.26 L1433.29,270.43 L1434.48,270.58 L1435.67,270.72 L1436.86,270.84 L1438.05,270.95 L1439.24,271.03 L1440.44,271.10 L1441.64,271.14 L1442.84,271.17 L1444.04,271.17 L1445.24,271.15 L1446.44,271.10 L1447.65,271.02 L1448.86,270.92 L1450.07,270.79 L1451.28,270.64 L1452.49,270.47 L1453.71,270.28 L1454.92,270.07 L1456.14,269.85 L1457.35,269.61 L1458.57,269.37 L1459.78,269.12 L1461.00,268.87 L1462.21,268.61 L1463.42,268.35 L1464.63,268.09 L1465.84,267.84 L1467.05,267.60 L1468.26,267.36 L1469.46,267.14 L1470.67,266.92 L1471.86,266.73 L1473.06,266.55 L1474.25,266.39 L1475.44,266.26 L1476.63,266.15 L1477.81,266.06 L1478.99,266.01 L1480.16,265.99 L1481.33,266.00 L1482.49,266.05 L1483.65,266.14 L1484.80,266.27 L1485.95,266.44 L1487.09,266.65 L1488.22,266.90 L1489.35,267.18 L1490.47,267.51 L1491.58,267.87 L1492.69,268.27 L1493.78,268.70 L1494.87,269.16 L1495.95,269.66 L1497.02,270.18 L1498.08,270.74 L1499.13,271.33 L1500.17,271.94 L1501.20,272.58 L1502.22,273.25 L1503.23,273.94 L1504.22,274.66 L1505.21,275.40 L1506.18,276.16 L1507.14,276.94 L1508.09,277.74 L1509.02,278.57 L1509.94,279.40 L1510.84,280.26 L1511.74,281.13 L1512.61,282.02 L1513.48,282.92 L1514.32,283.83 L1515.15,284.76 L1515.97,285.70 L1516.77,286.64 L1517.55,287.60 L1518.32,288.56 L1519.06,289.53 L1519.79,290.50 L1520.51,291.48 L1521.20,292.47 L1521.89,293.46 L1522.55,294.45"/>
<path d="M1526.90,301.51 L1527.49,302.53 L1528.08,303.55 L1528.66,304.57 L1529.23,305.59 L1529.81,306.62 L1530.38,307.65 L1530.95,308.67 L1531.53,309.70 L1532.11,310.73 L1532.68,311.76 L1533.27,312.79 L1533.86,313.81 L1534.45,314.84 L1535.05,315.86 L1535.66,316.89 L1536.28,317.91 L1536.91,318.93 L1537.55,319.95 L1538.20,320.97 L1538.87,321.98 L1539.55,322.99 L1540.25,324.00 L1540.96,325.01 L1541.69,326.01 L1542.43,327.01 L1543.20,328.00"/>
</g>
<path d="M211.20,151.00 L212.40,151.95 L213.59,152.90 L214.78,153.86 L215.96,154.83 L217.13,155.80 L218.30,156.78 L219.45,157.76 L220.60,158.75 L221.74,159.75 L222.88,160.75 L224.01,161.76 L225.13,162.78 L226.24,163.80 L227.35,164.83 L228.45,165.86 L229.54,166.90 L230.63,167.95 L231.70,169.00 L232.78,170.06 L233.84,171.12 L234.90,172.19 L235.95,173.26 L236.99,174.34 L238.03,175.42 L239.06,176.51 L240.08,177.61 L241.10,178.71 L242.11,179.82 L243.11,180.93 L244.11,182.05 L245.10,183.17 L246.09,184.30 L247.06,185.43 L248.03,186.57 L249.00,187.71 L249.96,188.86 L250.91,190.01 L251.86,191.17 L252.79,192.33 L253.73,193.50 L254.65,194.67 L255.58,195.85 L256.49,197.03 L257.40,198.21 L258.30,199.40 L259.20,200.60 L260.09,201.80 L260.97,203.00 L261.85,204.21 L262.72,205.42 L263.59,206.64 L264.45,207.86 L265.30,209.09 L266.15,210.32 L266.99,211.55 L267.83,212.79 L268.66,214.03 L269.49,215.28 L270.31,216.53 L271.12,217.78 L271.93,219.04 L272.74,220.30 L273.53,221.57 L274.33,222.84 L275.11,224.11 L275.90,225.39 L276.67,226.67 L277.44,227.95 L278.21,229.24 L278.97,230.53 L279.72,231.82 L280.47,233.12 L281.22,234.42 L281.96,235.73 L282.69,237.03 L283.42,238.35 L284.14,239.66 L284.86,240.98 L285.58,242.30 L286.29,243.62 L286.99,244.95 L287.69,246.28 L288.38,247.61 L289.07,248.94 L289.76,250.28 L290.44,251.62 L291.11,252.97 L291.78,254.31 L292.45,255.66 L293.11,257.01 L293.77,258.37 L294.42,259.72 L295.07,261.08 L295.71,262.44 L296.35,263.81 L296.98,265.17 L297.61,266.54 L298.24,267.91 L298.86,269.28 L299.48,270.66 L300.09,272.03 L300.70,273.41 L301.30,274.79 L301.90,276.18 L302.50,277.56 L303.09,278.95 L303.67,280.34 L304.26,281.73 L304.84,283.12 L305.41,284.51 L305.98,285.91 L306.55,287.31 L307.11,288.71 L307.67,290.11 L308.23,291.51 L308.78,292.91 L309.33,294.32 L309.87,295.72 L310.41,297.13 L310.95,298.54 L311.48,299.95 L312.01,301.36 L312.54,302.77 L313.06,304.19 L313.58,305.60 L314.10,307.02 L314.61,308.43 L315.12,309.85 L315.62,311.27 L316.13,312.69 L316.63,314.11 L317.12,315.53 L317.61,316.95 L318.10,318.37 L318.59,319.80 L319.07,321.22 L319.55,322.65 L320.03,324.07 L320.51,325.50 L320.98,326.93 L321.45,328.36 L321.91,329.79 L322.38,331.22 L322.84,332.65 L323.29,334.08 L323.75,335.51 L324.20,336.94 L324.65,338.38 L325.10,339.81 L325.55,341.25 L325.99,342.68 L326.43,344.12 L326.87,345.55 L327.30,346.99 L327.74,348.43 L328.17,349.87 L328.60,351.31 L329.03,352.75 L329.45,354.19 L329.88,355.63 L330.30,357.07 L330.72,358.51 L331.14,359.95 L331.55,361.39 L331.97,362.84 L332.38,364.28 L332.79,365.72 L333.20,367.17 L333.61,368.61 L334.01,370.05 L334.42,371.50 L334.82,372.94 L335.22,374.39 L335.63,375.84 L336.02,377.28 L336.42,378.73 L336.82,380.17 L337.22,381.62 L337.61,383.07 L338.00,384.51 L338.40,385.96 L338.79,387.41 L339.18,388.86 L339.57,390.30 L339.96,391.75 L340.34,393.20 L340.73,394.65 L341.12,396.09 L341.50,397.54 L341.89,398.99 L342.27,400.44 L342.65,401.89 L343.04,403.33 L343.42,404.78 L343.80,406.23 L344.18,407.68 L344.56,409.13 L344.94,410.58 L345.32,412.03 L345.69,413.48 L346.07,414.93 L346.45,416.38 L346.82,417.83 L347.20,419.28 L347.57,420.73 L347.94,422.18 L348.32,423.63 L348.69,425.08 L349.06,426.53 L349.43,427.98 L349.80,429.43 L350.17,430.89 L350.54,432.34 L350.91,433.79 L351.28,435.24 L351.64,436.70 L352.01,438.15 L352.38,439.60 L352.74,441.06 L353.11,442.51 L353.47,443.97 L353.83,445.42 L354.20,446.88 L354.56,448.34 L354.92,449.79 L355.28,451.25 L355.64,452.71 L356.00,454.16 L356.36,455.62 L356.72,457.08 L357.08,458.54 L357.44,460.00 L357.80,461.46 L358.16,462.92 L358.51,464.38 L358.87,465.84 L359.22,467.31 L359.58,468.77 L359.93,470.23 L360.29,471.69 L360.64,473.16 L361.00,474.62 L361.35,476.09 L361.70,477.55 L362.05,479.02 L362.41,480.49 L362.76,481.95 L363.11,483.42 L363.46,484.89 L363.81,486.36 L364.16,487.83 L364.51,489.30 L364.86,490.77 L365.20,492.24 L365.55,493.72 L365.90,495.19 L366.25,496.66 L366.59,498.14 L366.94,499.61 L367.29,501.09 L367.63,502.57 L367.98,504.04 L368.32,505.52 L368.67,507.00 L369.01,508.48 L369.36,509.96 L369.70,511.44 L370.05,512.92 L370.41,514.41 L370.77,515.89 L371.16,517.37 L371.56,518.85 L371.99,520.33 L372.45,521.81 L372.94,523.29 L373.47,524.76 L374.04,526.24 L374.65,527.71 L375.32,529.18 L376.04,530.65 L376.82,532.11 L377.65,533.53 L378.52,534.89 L379.42,536.13 L380.34,537.24 L381.26,538.16 L382.18,538.87 L383.08,539.33 L383.97,539.50 L384.81,539.36 L385.63,538.94 L386.42,538.28 L387.18,537.40 L387.92,536.34 L388.64,535.14 L389.34,533.83 L390.03,532.44 L390.70,531.01 L391.36,529.57 L392.02,528.13 L392.66,526.69 L393.29,525.24 L393.92,523.80 L394.53,522.36 L395.14,520.91 L395.74,519.47 L396.34,518.02 L396.92,516.58 L397.50,515.13 L398.07,513.69 L398.63,512.24 L399.19,510.80 L399.75,509.36 L400.29,507.91 L400.83,506.47 L401.37,505.03 L401.90,503.58 L402.42,502.14 L402.94,500.70 L403.46,499.26 L403.97,497.82 L404.48,496.38 L404.99,494.94 L405.49,493.50 L405.99,492.06 L406.48,490.63 L406.98,489.19 L407.47,487.76 L407.96,486.32 L408.45,484.89 L408.93,483.46 L409.42,482.03 L409.90,480.60 L410.38,479.17 L410.87,477.74 L411.35,476.32 L411.83,474.90 L412.32,473.47 L412.80,472.05 L413.29,470.63 L413.78,469.22 L414.26,467.80 L414.75,466.39 L415.24,464.97 L415.74,463.56 L416.24,462.16 L416.73,460.75 L417.24,459.34 L417.74,457.94 L418.25,456.54 L418.76,455.14 L419.28,453.75 L419.80,452.35 L420.33,450.96 L420.86,449.57 L421.40,448.19 L421.94,446.80 L422.48,445.42 L423.03,444.04 L423.59,442.67 L424.15,441.29 L424.72,439.92 L425.29,438.55 L425.87,437.18 L426.45,435.81 L427.03,434.45 L427.62,433.09 L428.22,431.73 L428.82,430.37 L429.43,429.01 L430.04,427.66 L430.65,426.30 L431.27,424.95 L431.90,423.60 L432.53,422.25 L433.16,420.91 L433.80,419.56 L434.44,418.22 L435.09,416.88 L435.75,415.54 L436.41,414.20 L437.07,412.86 L437.74,411.53 L438.41,410.20 L439.09,408.86 L439.77,407.53 L440.46,406.20 L441.15,404.87 L441.84,403.55 L442.54,402.22 L443.25,400.89 L443.96,399.57 L444.67,398.25 L445.39,396.92 L446.12,395.60 L446.84,394.28 L447.58,392.96 L448.31,391.64 L449.05,390.33 L449.80,389.01 L450.55,387.69 L451.31,386.38 L452.07,385.06 L452.83,383.75 L453.60,382.44 L454.37,381.12 L455.15,379.81 L455.93,378.50 L456.71,377.19 L457.50,375.88 L458.30,374.57 L459.10,373.26 L459.90,371.95 L460.71,370.64 L461.52,369.34 L462.34,368.04 L463.17,366.74 L464.00,365.44 L464.84,364.15 L465.68,362.87 L466.53,361.59 L467.38,360.31 L468.25,359.04 L469.12,357.78 L469.99,356.52 L470.88,355.27 L471.77,354.03 L472.67,352.80 L473.58,351.57 L474.50,350.36 L475.42,349.15 L476.36,347.96 L477.30,346.77 L478.25,345.60 L479.22,344.43 L480.19,343.28 L481.17,342.14 L482.16,341.02 L483.16,339.90 L484.17,338.80 L485.19,337.72 L486.23,336.65 L487.27,335.59 L488.33,334.55 L489.39,333.53 L490.47,332.52 L491.56,331.53 L492.67,330.55 L493.78,329.60 L494.91,328.66 L496.05,327.74 L497.20,326.84 L498.37,325.96 L499.55,325.10 L500.74,324.26 L501.95,323.44 L503.17,322.64 L504.40,321.86 L505.65,321.11 L506.92,320.38 L508.20,319.67 L509.49,318.99 L510.80,318.32 L512.12,317.68 L513.45,317.07 L514.80,316.47 L516.16,315.90 L517.53,315.35 L518.92,314.81 L520.31,314.31 L521.72,313.82 L523.13,313.35 L524.56,312.90 L526.00,312.47 L527.44,312.07 L528.90,311.68 L530.36,311.31 L531.83,310.96 L533.31,310.63 L534.80,310.32 L536.29,310.02 L537.79,309.75 L539.30,309.49 L540.81,309.25 L542.33,309.03 L543.85,308.82 L545.38,308.64 L546.91,308.46 L548.44,308.31 L549.98,308.17 L551.52,308.05 L553.07,307.94 L554.61,307.85 L556.16,307.77 L557.71,307.71 L559.26,307.66 L560.81,307.63 L562.36,307.61 L563.91,307.61 L565.46,307.62 L567.01,307.64 L568.56,307.68 L570.10,307.73 L571.65,307.80 L573.19,307.88 L574.73,307.98 L576.27,308.09 L577.80,308.22 L579.33,308.36 L580.86,308.52 L582.38,308.70 L583.90,308.89 L585.42,309.10 L586.93,309.33 L588.44,309.57 L589.94,309.83 L591.43,310.10 L592.92,310.40 L594.40,310.71 L595.88,311.04 L597.35,311.39 L598.81,311.75 L600.26,312.14 L601.71,312.54 L603.15,312.97 L604.58,313.41 L606.00,313.87 L607.41,314.35 L608.82,314.85 L610.21,315.37 L611.59,315.91 L612.97,316.46 L614.33,317.04 L615.69,317.64 L617.03,318.26 L618.37,318.89 L619.69,319.55 L621.01,320.22 L622.32,320.91 L623.62,321.62 L624.90,322.34 L626.18,323.09 L627.45,323.84 L628.71,324.62 L629.96,325.41 L631.20,326.22 L632.43,327.05 L633.65,327.89 L634.86,328.74 L636.06,329.61 L637.26,330.50 L638.44,331.40 L639.61,332.31 L640.78,333.24 L641.93,334.18 L643.08,335.14 L644.22,336.11 L645.35,337.09 L646.46,338.09 L647.57,339.09 L648.67,340.11 L649.77,341.15 L650.85,342.19 L651.92,343.24 L652.98,344.31 L654.04,345.39 L655.08,346.48 L656.12,347.58 L657.15,348.69 L658.17,349.81 L659.17,350.93 L660.18,352.07 L661.17,353.22 L662.15,354.38 L663.12,355.54 L664.09,356.72 L665.04,357.90 L665.99,359.09 L666.93,360.29 L667.86,361.49 L668.78,362.71 L669.69,363.93 L670.59,365.15 L671.49,366.39 L672.37,367.62 L673.25,368.87 L674.12,370.12 L674.97,371.38 L675.83,372.64 L676.67,373.90 L677.50,375.17 L678.32,376.45 L679.14,377.73 L679.95,379.01 L680.75,380.30 L681.54,381.59 L682.32,382.88 L683.09,384.18 L683.86,385.48 L684.62,386.78 L685.37,388.09 L686.11,389.40 L686.84,390.72 L687.56,392.03 L688.28,393.35 L688.99,394.68 L689.69,396.00 L690.39,397.33 L691.07,398.67 L691.75,400.00 L692.42,401.34 L693.09,402.68 L693.74,404.03 L694.39,405.38 L695.03,406.73 L695.67,408.08 L696.30,409.44 L696.92,410.80 L697.53,412.16 L698.14,413.53 L698.74,414.90 L699.33,416.27 L699.92,417.64 L700.50,419.02 L701.07,420.40 L701.64,421.78 L702.20,423.17 L702.75,424.55 L703.30,425.95 L703.84,427.34 L704.38,428.73 L704.91,430.13 L705.44,431.53 L705.95,432.94 L706.47,434.34 L706.97,435.75 L707.47,437.16 L707.97,438.57 L708.46,439.99 L708.94,441.41 L709.42,442.83 L709.90,444.25 L710.36,445.67 L710.83,447.10 L711.29,448.53 L711.74,449.96 L712.19,451.39 L712.63,452.83 L713.07,454.27 L713.50,455.71 L713.93,457.15 L714.35,458.59 L714.77,460.04 L715.19,461.49 L715.60,462.94 L716.00,464.39 L716.41,465.85 L716.80,467.30 L717.20,468.76 L717.59,470.22 L717.98,471.68 L718.37,473.13 L718.77,474.59 L719.16,476.05 L719.56,477.51 L719.97,478.96 L720.38,480.41 L720.80,481.86 L721.22,483.31 L721.66,484.75 L722.11,486.19 L722.57,487.62 L723.04,489.04 L723.53,490.46 L724.03,491.88 L724.55,493.29 L725.09,494.69 L725.64,496.08 L726.22,497.46 L726.82,498.84 L727.44,500.21 L728.08,501.56 L728.75,502.91 L729.44,504.24 L730.17,505.57 L730.92,506.88 L731.69,508.18 L732.48,509.48 L733.28,510.77 L734.10,512.05 L734.91,513.33 L735.72,514.62 L736.52,515.90 L737.31,517.19 L738.08,518.49 L738.82,519.80 L739.54,521.11 L740.22,522.44 L740.87,523.78 L741.49,525.12 L742.08,526.48 L742.64,527.85 L743.18,529.23 L743.69,530.61 L744.17,532.01 L744.63,533.41 L745.07,534.83 L745.48,536.25 L745.87,537.67 L746.24,539.11 L746.59,540.55 L746.93,542.00 L747.24,543.45 L747.54,544.91 L747.82,546.38 L748.09,547.85 L748.34,549.32 L748.58,550.80 L748.80,552.29 L749.02,553.78 L749.22,555.27 L749.42,556.76 L749.60,558.26 L749.78,559.76 L749.95,561.26 L750.12,562.77 L750.28,564.28 L750.43,565.78 L750.59,567.29 L750.74,568.80 L750.89,570.31 L751.04,571.82 L751.19,573.33 L751.34,574.83 L751.49,576.34 L751.65,577.85 L751.80,579.35 L751.96,580.86 L752.12,582.36 L752.28,583.86 L752.45,585.37 L752.61,586.87 L752.78,588.37 L752.95,589.87 L753.12,591.37 L753.29,592.87 L753.46,594.36 L753.63,595.86 L753.80,597.36 L753.98,598.85 L754.15,600.35 L754.33,601.84 L754.50,603.34 L754.68,604.83 L754.86,606.33 L755.04,607.82 L755.21,609.31 L755.39,610.81 L755.57,612.30 L755.75,613.79 L755.93,615.28 L756.11,616.77 L756.29,618.26 L756.47,619.75 L756.65,621.24 L756.83,622.73 L757.00,624.22 L757.18,625.71 L757.36,627.20 L757.54,628.69 L757.71,630.18 L757.89,631.67 L758.07,633.16 L758.24,634.64 L758.41,636.13 L758.59,637.62 L758.76,639.11 L758.93,640.60 L759.10,642.09 L759.27,643.58 L759.44,645.07 L759.60,646.55 L759.77,648.04 L759.93,649.53 L760.09,651.02 L760.25,652.51 L760.41,654.00 L760.57,655.49 L760.72,656.98 L760.88,658.47 L761.03,659.96 L761.18,661.45 L761.32,662.95 L761.47,664.44 L761.61,665.93 L761.75,667.42 L761.89,668.92 L762.02,670.41 L762.16,671.90 L762.29,673.40 L762.42,674.89 L762.54,676.39 L762.67,677.88 L762.79,679.38 L762.91,680.87 L763.03,682.37 L763.15,683.87 L763.26,685.36 L763.38,686.86 L763.49,688.36 L763.60,689.86 L763.71,691.36 L763.81,692.86 L763.92,694.35 L764.02,695.85 L764.12,697.35 L764.23,698.85 L764.33,700.35 L764.42,701.85 L764.52,703.35 L764.62,704.85 L764.71,706.36 L764.81,707.86 L764.90,709.36 L764.99,710.86 L765.08,712.36 L765.17,713.86 L765.26,715.36 L765.35,716.87 L765.44,718.37 L765.52,719.87 L765.61,721.37 L765.69,722.88 L765.78,724.38 L765.86,725.88 L765.95,727.38 L766.03,728.89 L766.12,730.39 L766.20,731.89 L766.28,733.40 L766.37,734.90 L766.45,736.40 L766.53,737.91 L766.62,739.41 L766.70,740.91 L766.78,742.41 L766.87,743.92 L766.95,745.42 L767.03,746.92 L767.12,748.43 L767.20,749.93 L767.29,751.43 L767.37,752.94 L767.46,754.44 L767.54,755.94 L767.63,757.44 L767.72,758.95 L767.81,760.45 L767.90,761.95 L767.99,763.45 L768.08,764.96 L768.17,766.46 L768.26,767.96 L768.35,769.46 L768.45,770.96 L768.55,772.46 L768.64,773.96 L768.74,775.46 L768.84,776.97 L768.94,778.47 L769.04,779.97 L769.15,781.47 L769.25,782.96 L769.36,784.46 L769.47,785.96 L769.58,787.46 L769.69,788.96 L769.80,790.46 L769.92,791.96 L770.03,793.45 L770.15,794.95 L770.27,796.45 L770.40,797.95 L770.52,799.44 L770.65,800.94 L770.78,802.43 L770.91,803.93 L771.04,805.42 L771.18,806.92 L771.32,808.41 L771.46,809.90 L771.60,811.40 L771.74,812.89 L771.89,814.38 L772.04,815.87 L772.20,817.37 L772.35,818.86 L772.51,820.35 L772.67,821.84 L772.84,823.33 L773.00,824.82 L773.17,826.30 L773.35,827.79 L773.52,829.28 L773.70,830.77 L773.88,832.25 L774.07,833.74 L774.26,835.22 L774.45,836.71 L774.65,838.19 L774.85,839.68 L775.05,841.16 L775.25,842.64 L775.46,844.12 L775.68,845.60 L775.89,847.08 L776.12,848.56 L776.34,850.04 L776.57,851.52 L776.80,853.00 L776.94,851.51 L777.07,850.03 L777.21,848.54 L777.34,847.05 L777.48,845.56 L777.61,844.07 L777.74,842.58 L777.86,841.09 L777.99,839.60 L778.12,838.11 L778.24,836.62 L778.36,835.12 L778.49,833.63 L778.61,832.14 L778.73,830.65 L778.84,829.15 L778.96,827.66 L779.08,826.17 L779.19,824.67 L779.31,823.18 L779.42,821.68 L779.53,820.19 L779.64,818.69 L779.75,817.19 L779.86,815.70 L779.97,814.20 L780.08,812.70 L780.19,811.21 L780.29,809.71 L780.40,808.21 L780.50,806.71 L780.61,805.21 L780.71,803.72 L780.81,802.22 L780.91,800.72 L781.01,799.22 L781.11,797.72 L781.21,796.22 L781.31,794.72 L781.41,793.22 L781.51,791.72 L781.61,790.22 L781.71,788.72 L781.80,787.21 L781.90,785.71 L782.00,784.21 L782.09,782.71 L782.19,781.21 L782.28,779.71 L782.38,778.20 L782.47,776.70 L782.57,775.20 L782.66,773.69 L782.76,772.19 L782.85,770.69 L782.94,769.19 L783.04,767.68 L783.13,766.18 L783.23,764.68 L783.32,763.17 L783.41,761.67 L783.51,760.16 L783.60,758.66 L783.69,757.16 L783.79,755.65 L783.88,754.15 L783.98,752.64 L784.07,751.14 L784.17,749.64 L784.26,748.13 L784.36,746.63 L784.45,745.12 L784.55,743.62 L784.65,742.11 L784.74,740.61 L784.84,739.10 L784.94,737.60 L785.03,736.10 L785.13,734.59 L785.23,733.09 L785.33,731.58 L785.43,730.08 L785.53,728.57 L785.63,727.07 L785.73,725.56 L785.84,724.06 L785.94,722.56 L786.04,721.05 L786.15,719.55 L786.25,718.04 L786.36,716.54 L786.47,715.04 L786.57,713.53 L786.68,712.03 L786.79,710.53 L786.90,709.02 L787.01,707.52 L787.13,706.02 L787.24,704.51 L787.35,703.01 L787.47,701.51 L787.58,700.00 L787.70,698.50 L787.82,697.00 L787.94,695.50 L788.06,694.00 L788.18,692.49 L788.30,690.99 L788.43,689.49 L788.55,687.99 L788.68,686.49 L788.81,684.99 L788.94,683.49 L789.07,681.99 L789.20,680.49 L789.34,678.99 L789.47,677.49 L789.61,675.99 L789.75,674.49 L789.88,672.99 L790.03,671.49 L790.17,669.99 L790.31,668.49 L790.46,667.00 L790.61,665.50 L790.76,664.00 L790.91,662.50 L791.06,661.01 L791.21,659.51 L791.37,658.02 L791.53,656.52 L791.69,655.02 L791.85,653.53 L792.01,652.03 L792.18,650.54 L792.34,649.05 L792.51,647.55 L792.68,646.06 L792.86,644.57 L793.03,643.07 L793.21,641.58 L793.39,640.09 L793.57,638.60 L793.75,637.11 L793.94,635.62 L794.13,634.13 L794.32,632.64 L794.51,631.15 L794.70,629.66 L794.90,628.17 L795.10,626.68 L795.30,625.19 L795.50,623.71 L795.71,622.22 L795.92,620.73 L796.13,619.25 L796.34,617.76 L796.56,616.28 L796.78,614.79 L797.00,613.31 L797.22,611.83 L797.45,610.35 L797.68,608.86 L797.91,607.38 L798.14,605.90 L798.38,604.42 L798.62,602.94 L798.86,601.46 L799.10,599.98 L799.35,598.50 L799.60,597.02 L799.85,595.55 L800.11,594.07 L800.37,592.59 L800.63,591.12 L800.90,589.64 L801.16,588.17 L801.43,586.69 L801.71,585.22 L801.98,583.75 L802.26,582.28 L802.55,580.81 L802.83,579.34 L803.12,577.87 L803.42,576.40 L803.71,574.93 L804.01,573.46 L804.31,571.99 L804.62,570.52 L804.92,569.06 L805.24,567.59 L805.55,566.13 L805.87,564.66 L806.19,563.20 L806.52,561.74 L806.85,560.28 L807.18,558.82 L807.51,557.35 L807.85,555.89 L808.20,554.44 L808.54,552.98 L808.89,551.52 L809.25,550.06 L809.60,548.61 L809.96,547.15 L810.33,545.70 L810.70,544.24 L811.07,542.79 L811.45,541.34 L811.83,539.89 L812.21,538.44 L812.60,536.99 L812.99,535.54 L813.38,534.09 L813.78,532.64 L814.18,531.20 L814.59,529.75 L815.00,528.31 L815.42,526.86 L815.84,525.42 L816.26,523.98 L816.69,522.54 L817.12,521.10 L817.56,519.66 L818.01,518.23 L818.46,516.79 L818.91,515.36 L819.38,513.93 L819.84,512.50 L820.32,511.07 L820.80,509.64 L821.28,508.22 L821.78,506.80 L822.28,505.38 L822.79,503.96 L823.30,502.55 L823.83,501.14 L824.36,499.73 L824.89,498.32 L825.44,496.92 L826.00,495.52 L826.56,494.12 L827.13,492.73 L827.71,491.33 L828.30,489.94 L828.90,488.56 L829.51,487.18 L830.13,485.80 L830.75,484.42 L831.39,483.05 L832.04,481.69 L832.70,480.32 L833.36,478.96 L834.04,477.61 L834.73,476.25 L835.43,474.91 L836.14,473.56 L836.87,472.23 L837.60,470.89 L838.35,469.56 L839.11,468.23 L839.88,466.91 L840.66,465.60 L841.46,464.29 L842.26,462.98 L843.08,461.68 L843.92,460.39 L844.76,459.11 L845.63,457.83 L846.50,456.57 L847.39,455.31 L848.29,454.07 L849.21,452.84 L850.14,451.63 L851.08,450.42 L852.04,449.24 L853.02,448.07 L854.01,446.91 L855.02,445.78 L856.04,444.66 L857.08,443.56 L858.13,442.49 L859.20,441.43 L860.29,440.40 L861.39,439.39 L862.51,438.40 L863.65,437.44 L864.80,436.50 L865.97,435.59 L867.16,434.71 L868.37,433.86 L869.59,433.03 L870.84,432.24 L872.10,431.47 L873.37,430.73 L874.66,430.03 L875.97,429.35 L877.29,428.71 L878.62,428.10 L879.97,427.52 L881.33,426.97 L882.70,426.46 L884.08,425.97 L885.48,425.53 L886.88,425.11 L888.30,424.73 L889.72,424.38 L891.16,424.07 L892.60,423.80 L894.05,423.56 L895.51,423.35 L896.97,423.18 L898.44,423.05 L899.91,422.96 L901.39,422.90 L902.88,422.88 L904.37,422.90 L905.86,422.96 L907.35,423.06 L908.85,423.19 L910.35,423.35 L911.85,423.55 L913.34,423.79 L914.84,424.06 L916.34,424.35 L917.83,424.68 L919.32,425.04 L920.81,425.43 L922.29,425.85 L923.77,426.29 L925.24,426.77 L926.71,427.26 L928.16,427.78 L929.61,428.33 L931.06,428.90 L932.49,429.49 L933.91,430.10 L935.33,430.73 L936.73,431.38 L938.12,432.05 L939.50,432.74 L940.86,433.44 L942.21,434.16 L943.55,434.90 L944.87,435.65 L946.18,436.41 L947.47,437.19 L948.75,437.99 L950.02,438.80 L951.27,439.63 L952.52,440.46 L953.74,441.32 L954.96,442.18 L956.16,443.07 L957.35,443.96 L958.53,444.87 L959.69,445.79 L960.85,446.72 L961.98,447.67 L963.11,448.63 L964.23,449.60 L965.33,450.59 L966.42,451.58 L967.50,452.59 L968.57,453.61 L969.63,454.64 L970.67,455.69 L971.71,456.74 L972.73,457.81 L973.74,458.88 L974.75,459.97 L975.74,461.07 L976.72,462.18 L977.69,463.30 L978.64,464.43 L979.59,465.56 L980.53,466.71 L981.46,467.87 L982.38,469.04 L983.29,470.21 L984.18,471.40 L985.07,472.59 L985.95,473.80 L986.82,475.01 L987.68,476.23 L988.53,477.45 L989.38,478.69 L990.21,479.93 L991.03,481.18 L991.85,482.44 L992.66,483.71 L993.46,484.98 L994.25,486.26 L995.03,487.55 L995.80,488.84 L996.57,490.14 L997.33,491.44 L998.08,492.75 L998.82,494.07 L999.55,495.39 L1000.28,496.72 L1001.00,498.05 L1001.71,499.39 L1002.42,500.74 L1003.12,502.08 L1003.81,503.44 L1004.49,504.79 L1005.17,506.15 L1005.84,507.52 L1006.51,508.89 L1007.17,510.26 L1007.82,511.64 L1008.47,513.02 L1009.11,514.40 L1009.74,515.78 L1010.37,517.17 L1010.99,518.56 L1011.61,519.96 L1012.22,521.35 L1012.83,522.75 L1013.43,524.15 L1014.03,525.55 L1014.62,526.96 L1015.21,528.36 L1015.79,529.77 L1016.37,531.17 L1016.94,532.58 L1017.51,533.99 L1018.08,535.40 L1018.64,536.81 L1019.19,538.22 L1019.74,539.63 L1020.29,541.05 L1020.83,542.46 L1021.37,543.88 L1021.90,545.30 L1022.43,546.71 L1022.95,548.13 L1023.47,549.55 L1023.99,550.97 L1024.50,552.39 L1025.01,553.81 L1025.51,555.24 L1026.01,556.66 L1026.51,558.09 L1027.00,559.51 L1027.48,560.94 L1027.96,562.37 L1028.44,563.79 L1028.92,565.22 L1029.39,566.65 L1029.85,568.08 L1030.31,569.52 L1030.77,570.95 L1031.23,572.38 L1031.68,573.82 L1032.12,575.25 L1032.56,576.69 L1033.00,578.12 L1033.44,579.56 L1033.87,581.00 L1034.29,582.44 L1034.72,583.88 L1035.14,585.32 L1035.55,586.76 L1035.96,588.21 L1036.37,589.65 L1036.78,591.09 L1037.18,592.54 L1037.57,593.99 L1037.97,595.43 L1038.36,596.88 L1038.74,598.33 L1039.12,599.78 L1039.50,601.23 L1039.88,602.68 L1040.25,604.13 L1040.62,605.58 L1040.98,607.03 L1041.34,608.49 L1041.70,609.94 L1042.06,611.40 L1042.41,612.85 L1042.75,614.31 L1043.10,615.76 L1043.44,617.22 L1043.78,618.68 L1044.11,620.14 L1044.44,621.60 L1044.77,623.06 L1045.09,624.52 L1045.42,625.98 L1045.73,627.45 L1046.05,628.91 L1046.36,630.37 L1046.67,631.84 L1046.98,633.30 L1047.28,634.77 L1047.58,636.24 L1047.87,637.70 L1048.17,639.17 L1048.46,640.64 L1048.75,642.11 L1049.03,643.58 L1049.31,645.05 L1049.59,646.52 L1049.87,647.99 L1050.14,649.47 L1050.41,650.94 L1050.68,652.41 L1050.94,653.89 L1051.20,655.36 L1051.46,656.84 L1051.72,658.31 L1051.97,659.79 L1052.22,661.26 L1052.47,662.74 L1052.72,664.22 L1052.96,665.70 L1053.20,667.18 L1053.44,668.66 L1053.68,670.14 L1053.91,671.62 L1054.14,673.10 L1054.37,674.58 L1054.60,676.06 L1054.82,677.54 L1055.04,679.03 L1055.26,680.51 L1055.48,682.00 L1055.69,683.48 L1055.90,684.96 L1056.11,686.45 L1056.32,687.94 L1056.53,689.42 L1056.73,690.91 L1056.93,692.40 L1057.13,693.88 L1057.33,695.37 L1057.53,696.86 L1057.72,698.35 L1057.91,699.84 L1058.10,701.33 L1058.29,702.82 L1058.47,704.31 L1058.66,705.80 L1058.84,707.29 L1059.02,708.78 L1059.20,710.27 L1059.38,711.77 L1059.55,713.26 L1059.72,714.75 L1059.90,716.25 L1060.07,717.74 L1060.23,719.23 L1060.40,720.73 L1060.57,722.22 L1060.73,723.72 L1060.89,725.21 L1061.05,726.71 L1061.21,728.20 L1061.37,729.70 L1061.52,731.20 L1061.68,732.69 L1061.83,734.19 L1061.98,735.69 L1062.14,737.19 L1062.28,738.68 L1062.43,740.18 L1062.58,741.68 L1062.73,743.18 L1062.87,744.68 L1063.01,746.18 L1063.16,747.68 L1063.30,749.17 L1063.44,750.67 L1063.57,752.17 L1063.71,753.67 L1063.85,755.17 L1063.99,756.68 L1064.12,758.18 L1064.25,759.68 L1064.39,761.18 L1064.52,762.68 L1064.65,764.18 L1064.78,765.68 L1064.91,767.18 L1065.04,768.69 L1065.17,770.19 L1065.29,771.69 L1065.42,773.19 L1065.55,774.69 L1065.67,776.20 L1065.80,777.70 L1065.92,779.20 L1066.04,780.70 L1066.17,782.21 L1066.29,783.71 L1066.41,785.21 L1066.53,786.72 L1066.65,788.22 L1066.77,789.72 L1066.89,791.23 L1067.01,792.73 L1067.13,794.23 L1067.25,795.74 L1067.37,797.24 L1067.49,798.74 L1067.61,800.25 L1067.73,801.75 L1067.84,803.25 L1067.96,804.76 L1068.08,806.26 L1068.20,807.76 L1068.31,809.27 L1068.43,810.77 L1068.55,812.27 L1068.66,813.78 L1068.78,815.28 L1068.90,816.78 L1069.02,818.29 L1069.13,819.79 L1069.25,821.29 L1069.37,822.80 L1069.49,824.30 L1069.60,825.80 L1069.72,827.30 L1069.84,828.81 L1069.96,830.31 L1070.08,831.81 L1070.20,833.32 L1070.32,834.82 L1070.44,836.32 L1070.56,837.82 L1070.68,839.32 L1070.80,840.83 L1070.92,842.33 L1071.05,843.83 L1071.17,845.33 L1071.29,846.83 L1071.42,848.33 L1071.54,849.83 L1071.66,851.34 L1071.79,852.84 L1071.92,854.34 L1072.04,855.84 L1072.17,857.34 L1072.30,858.84 L1072.43,860.34 L1072.56,861.84 L1072.69,863.34 L1072.82,864.83 L1072.96,866.33 L1073.09,867.83 L1073.23,869.33 L1073.36,870.83 L1073.50,872.33 L1073.64,873.82 L1073.77,875.32 L1073.91,876.82 L1074.06,878.31 L1074.20,879.81 L1074.34,881.31 L1074.48,882.80 L1074.63,884.30 L1074.78,885.79 L1074.93,887.29 L1075.07,888.78 L1075.23,890.28 L1075.38,891.77 L1075.53,893.27 L1075.68,894.76 L1075.84,896.25 L1076.00,897.74 L1076.16,899.24 L1076.32,900.73 L1076.48,902.22 L1076.64,903.71 L1076.81,905.20 L1076.97,906.69 L1077.14,908.18 L1077.31,909.67 L1077.48,911.16 L1077.66,912.65 L1077.83,914.14 L1078.01,915.63 L1078.19,917.11 L1078.37,918.60 L1078.55,920.09 L1078.73,921.58 L1078.92,923.06 L1079.11,924.55 L1079.30,926.03 L1079.49,927.52 L1079.68,929.00 L1079.79,927.48 L1079.90,925.96 L1080.01,924.45 L1080.12,922.93 L1080.24,921.42 L1080.36,919.91 L1080.47,918.40 L1080.60,916.89 L1080.72,915.38 L1080.84,913.87 L1080.96,912.36 L1081.09,910.86 L1081.22,909.35 L1081.35,907.85 L1081.48,906.35 L1081.61,904.84 L1081.74,903.34 L1081.88,901.84 L1082.01,900.34 L1082.15,898.85 L1082.29,897.35 L1082.42,895.85 L1082.56,894.36 L1082.70,892.86 L1082.85,891.37 L1082.99,889.88 L1083.13,888.38 L1083.28,886.89 L1083.42,885.40 L1083.57,883.91 L1083.71,882.42 L1083.86,880.93 L1084.01,879.44 L1084.16,877.95 L1084.31,876.46 L1084.46,874.98 L1084.61,873.49 L1084.76,872.00 L1084.91,870.52 L1085.06,869.03 L1085.22,867.54 L1085.37,866.06 L1085.52,864.57 L1085.67,863.09 L1085.83,861.60 L1085.98,860.12 L1086.14,858.63 L1086.29,857.15 L1086.44,855.67 L1086.60,854.18 L1086.75,852.70 L1086.91,851.21 L1087.06,849.73 L1087.22,848.24 L1087.37,846.76 L1087.52,845.28 L1087.68,843.79 L1087.83,842.31 L1087.98,840.82 L1088.14,839.34 L1088.29,837.85 L1088.44,836.37 L1088.59,834.88 L1088.74,833.40 L1088.90,831.91 L1089.05,830.42 L1089.20,828.94 L1089.34,827.45 L1089.49,825.96 L1089.64,824.47 L1089.79,822.98 L1089.94,821.49 L1090.08,820.00 L1090.23,818.51 L1090.37,817.02 L1090.51,815.53 L1090.66,814.04 L1090.80,812.55 L1090.94,811.05 L1091.08,809.56 L1091.22,808.06 L1091.35,806.57 L1091.49,805.07 L1091.62,803.57 L1091.76,802.08 L1091.89,800.58 L1092.02,799.08 L1092.15,797.58 L1092.28,796.08 L1092.41,794.57 L1092.53,793.07 L1092.66,791.56 L1092.78,790.06 L1092.90,788.55 L1093.02,787.04 L1093.14,785.53 L1093.26,784.02 L1093.37,782.51 L1093.49,781.00 L1093.60,779.49 L1093.72,777.97 L1093.83,776.46 L1093.94,774.95 L1094.06,773.43 L1094.17,771.92 L1094.28,770.40 L1094.40,768.88 L1094.51,767.37 L1094.63,765.85 L1094.75,764.33 L1094.86,762.82 L1094.98,761.30 L1095.10,759.78 L1095.23,758.27 L1095.35,756.75 L1095.48,755.23 L1095.61,753.72 L1095.74,752.20 L1095.87,750.69 L1096.01,749.17 L1096.15,747.66 L1096.29,746.15 L1096.44,744.64 L1096.59,743.12 L1096.74,741.61 L1096.90,740.10 L1097.06,738.60 L1097.22,737.09 L1097.39,735.58 L1097.57,734.08 L1097.74,732.58 L1097.93,731.07 L1098.12,729.57 L1098.31,728.07 L1098.51,726.58 L1098.71,725.08 L1098.92,723.59 L1099.14,722.09 L1099.36,720.60 L1099.59,719.12 L1099.83,717.63 L1100.07,716.15 L1100.32,714.66 L1100.57,713.18 L1100.83,711.71 L1101.10,710.23 L1101.38,708.76 L1101.67,707.29 L1101.96,705.82 L1102.26,704.35 L1102.57,702.89 L1102.89,701.43 L1103.21,699.97 L1103.55,698.52 L1103.89,697.07 L1104.24,695.62 L1104.61,694.17 L1104.98,692.73 L1105.36,691.29 L1105.75,689.86 L1106.15,688.43 L1106.56,687.00 L1106.98,685.57 L1107.41,684.15 L1107.86,682.73 L1108.31,681.32 L1108.77,679.91 L1109.25,678.50 L1109.73,677.10 L1110.23,675.70 L1110.74,674.30 L1111.26,672.91 L1111.80,671.53 L1112.34,670.14 L1112.90,668.77 L1113.47,667.39 L1114.05,666.02 L1114.65,664.66 L1115.26,663.30 L1115.88,661.94 L1116.52,660.60 L1117.18,659.26 L1117.86,657.94 L1118.57,656.65 L1119.30,655.39 L1120.08,654.17 L1120.89,652.98 L1121.75,651.84 L1122.65,650.76 L1123.60,649.73 L1124.61,648.77 L1125.67,647.87 L1126.80,647.05 L1128.00,646.31 L1129.26,645.66 L1130.61,645.10 L1132.02,644.64 L1133.52,644.27 L1135.08,643.97 L1136.67,643.72 L1138.29,643.49 L1139.90,643.26 L1141.50,642.99 L1143.06,642.65 L1144.58,642.26 L1146.05,641.79 L1147.48,641.26 L1148.85,640.66 L1150.18,640.01 L1151.46,639.28 L1152.70,638.50 L1153.88,637.65 L1155.01,636.75 L1156.10,635.80 L1157.15,634.79 L1158.15,633.73 L1159.12,632.63 L1160.05,631.48 L1160.94,630.30 L1161.80,629.08 L1162.62,627.82 L1163.42,626.53 L1164.19,625.21 L1164.93,623.87 L1165.65,622.50 L1166.34,621.11 L1167.02,619.71 L1167.67,618.29 L1168.32,616.85 L1168.94,615.41 L1169.55,613.97 L1170.16,612.51 L1170.75,611.06 L1171.34,609.61 L1171.92,608.17 L1172.49,606.73 L1173.07,605.29 L1173.64,603.86 L1174.21,602.44 L1174.78,601.02 L1175.36,599.61 L1175.93,598.20 L1176.51,596.80 L1177.10,595.41 L1177.69,594.02 L1178.28,592.64 L1178.89,591.27 L1179.50,589.91 L1180.13,588.55 L1180.77,587.20 L1181.42,585.87 L1182.08,584.54 L1182.76,583.22 L1183.46,581.91 L1184.17,580.61 L1184.90,579.32 L1185.65,578.04 L1186.42,576.77 L1187.21,575.51 L1188.03,574.26 L1188.87,573.02 L1189.73,571.80 L1190.62,570.58 L1191.54,569.38 L1192.48,568.19 L1193.46,567.02 L1194.47,565.85 L1195.50,564.70 L1196.58,563.57 L1197.68,562.44 L1198.82,561.34 L1199.99,560.29 L1201.19,559.29 L1202.42,558.37 L1203.68,557.55 L1204.96,556.85 L1206.27,556.28 L1207.60,555.86 L1208.94,555.62 L1210.31,555.57 L1211.69,555.71 L1213.07,556.02 L1214.45,556.49 L1215.81,557.09 L1217.14,557.81 L1218.44,558.63 L1219.70,559.52 L1220.90,560.47 L1222.04,561.47 L1223.12,562.51 L1224.15,563.59 L1225.12,564.71 L1226.04,565.86 L1226.91,567.05 L1227.74,568.27 L1228.52,569.52 L1229.27,570.80 L1229.97,572.11 L1230.64,573.44 L1231.28,574.79 L1231.88,576.16 L1232.46,577.56 L1233.01,578.97 L1233.53,580.39 L1234.04,581.83 L1234.52,583.27 L1234.99,584.73 L1235.45,586.19 L1235.90,587.66 L1236.33,589.13 L1236.77,590.60 L1237.19,592.07 L1237.61,593.55 L1238.03,595.02 L1238.44,596.49 L1238.85,597.96 L1239.25,599.43 L1239.65,600.91 L1240.04,602.38 L1240.43,603.85 L1240.82,605.33 L1241.20,606.80 L1241.57,608.27 L1241.94,609.74 L1242.31,611.22 L1242.67,612.69 L1243.03,614.16 L1243.38,615.64 L1243.73,617.11 L1244.08,618.59 L1244.42,620.06 L1244.76,621.53 L1245.09,623.01 L1245.42,624.48 L1245.74,625.96 L1246.06,627.43 L1246.38,628.91 L1246.70,630.38 L1247.00,631.86 L1247.31,633.33 L1247.61,634.81 L1247.91,636.28 L1248.21,637.76 L1248.50,639.24 L1248.78,640.71 L1249.07,642.19 L1249.35,643.67 L1249.62,645.14 L1249.90,646.62 L1250.17,648.10 L1250.44,649.58 L1250.70,651.05 L1250.96,652.53 L1251.22,654.01 L1251.47,655.49 L1251.72,656.97 L1251.97,658.45 L1252.21,659.93 L1252.45,661.40 L1252.69,662.88 L1252.93,664.36 L1253.16,665.85 L1253.39,667.33 L1253.62,668.81 L1253.84,670.29 L1254.06,671.77 L1254.28,673.25 L1254.50,674.73 L1254.71,676.21 L1254.92,677.70 L1255.13,679.18 L1255.33,680.66 L1255.54,682.15 L1255.74,683.63 L1255.94,685.11 L1256.13,686.60 L1256.33,688.08 L1256.52,689.57 L1256.71,691.05 L1256.89,692.54 L1257.08,694.03 L1257.26,695.51 L1257.44,697.00 L1257.62,698.48 L1257.80,699.97 L1257.97,701.46 L1258.14,702.95 L1258.31,704.44 L1258.48,705.92 L1258.65,707.41 L1258.81,708.90 L1258.98,710.39 L1259.14,711.88 L1259.30,713.37 L1259.45,714.86 L1259.61,716.35 L1259.76,717.85 L1259.91,719.34 L1260.06,720.83 L1260.21,722.32 L1260.36,723.81 L1260.50,725.31 L1260.65,726.80 L1260.79,728.29 L1260.93,729.78 L1261.07,731.28 L1261.20,732.77 L1261.34,734.27 L1261.47,735.76 L1261.60,737.26 L1261.73,738.75 L1261.86,740.25 L1261.99,741.74 L1262.11,743.24 L1262.24,744.73 L1262.36,746.23 L1262.48,747.73 L1262.60,749.22 L1262.72,750.72 L1262.83,752.22 L1262.95,753.71 L1263.06,755.21 L1263.18,756.71 L1263.29,758.21 L1263.40,759.71 L1263.50,761.21 L1263.61,762.70 L1263.72,764.20 L1263.82,765.70 L1263.92,767.20 L1264.03,768.70 L1264.13,770.20 L1264.23,771.70 L1264.33,773.20 L1264.42,774.70 L1264.52,776.20 L1264.61,777.70 L1264.71,779.20 L1264.80,780.70 L1264.89,782.20 L1264.98,783.71 L1265.07,785.21 L1265.16,786.71 L1265.25,788.21 L1265.33,789.71 L1265.42,791.21 L1265.50,792.72 L1265.58,794.22 L1265.67,795.72 L1265.75,797.22 L1265.83,798.73 L1265.91,800.23 L1265.99,801.73 L1266.07,803.23 L1266.14,804.74 L1266.22,806.24 L1266.29,807.74 L1266.37,809.25 L1266.44,810.75 L1266.52,812.25 L1266.59,813.76 L1266.66,815.26 L1266.73,816.77 L1266.80,818.27 L1266.87,819.77 L1266.94,821.28 L1267.01,822.78 L1267.07,824.29 L1267.14,825.79 L1267.21,827.30 L1267.27,828.80 L1267.34,830.30 L1267.40,831.81 L1267.47,833.31 L1267.53,834.82 L1267.59,836.32 L1267.66,837.83 L1267.72,839.33 L1267.78,840.84 L1267.84,842.34 L1267.90,843.85 L1267.96,845.35 L1268.02,846.86 L1268.08,848.36 L1268.14,849.87 L1268.20,851.37 L1268.26,852.88 L1268.32,854.38 L1268.38,855.89 L1268.43,857.39 L1268.49,858.90 L1268.55,860.40 L1268.61,861.91 L1268.66,863.41 L1268.72,864.92 L1268.78,866.42 L1268.83,867.93 L1268.89,869.43 L1268.95,870.94 L1269.00,872.44 L1269.06,873.95 L1269.11,875.45 L1269.17,876.95 L1269.23,878.46 L1269.28,879.96 L1269.34,881.47 L1269.39,882.97 L1269.45,884.48 L1269.51,885.98 L1269.56,887.49 L1269.62,888.99 L1269.68,890.49 L1269.73,892.00 L1269.79,893.50 L1269.85,895.01 L1269.90,896.51 L1269.96,898.01 L1270.02,899.52 L1270.07,901.02 L1270.13,902.52 L1270.19,904.03 L1270.25,905.53 L1270.31,907.03 L1270.37,908.54 L1270.43,910.04 L1270.48,911.54 L1270.54,913.04 L1270.60,914.55 L1270.67,916.05 L1270.73,917.55 L1270.79,919.05 L1270.85,920.56 L1270.91,922.06 L1270.98,923.56 L1271.04,925.06 L1271.10,926.56 L1271.17,928.06 L1271.23,929.56 L1271.30,931.07 L1271.36,932.57 L1271.43,934.07 L1271.50,935.57 L1271.56,937.07 L1271.63,938.57 L1271.70,940.07 L1271.77,941.57 L1271.84,943.07 L1271.91,944.57 L1271.99,946.06 L1272.06,947.56 L1272.13,949.06 L1272.21,950.56 L1272.28,952.06 L1272.36,953.56 L1272.43,955.05 L1272.51,956.55 L1272.59,958.05 L1272.67,959.55 L1272.75,961.04 L1272.83,962.54 L1272.91,964.04 L1272.99,965.53 L1273.08,967.03 L1273.16,968.52 L1273.25,970.02 L1273.33,971.52 L1273.42,973.01 L1273.51,974.51 L1273.60,976.00 L1273.69,974.50 L1273.77,973.00 L1273.86,971.50 L1273.94,969.99 L1274.03,968.49 L1274.11,966.99 L1274.19,965.49 L1274.28,963.99 L1274.36,962.49 L1274.44,960.99 L1274.52,959.48 L1274.60,957.98 L1274.68,956.48 L1274.76,954.98 L1274.84,953.48 L1274.92,951.98 L1275.00,950.48 L1275.08,948.97 L1275.16,947.47 L1275.23,945.97 L1275.31,944.47 L1275.39,942.97 L1275.46,941.47 L1275.54,939.97 L1275.61,938.46 L1275.69,936.96 L1275.76,935.46 L1275.84,933.96 L1275.91,932.46 L1275.98,930.96 L1276.06,929.46 L1276.13,927.95 L1276.20,926.45 L1276.27,924.95 L1276.35,923.45 L1276.42,921.95 L1276.49,920.45 L1276.56,918.95 L1276.63,917.44 L1276.70,915.94 L1276.77,914.44 L1276.84,912.94 L1276.91,911.44 L1276.98,909.94 L1277.05,908.44 L1277.12,906.93 L1277.19,905.43 L1277.26,903.93 L1277.32,902.43 L1277.39,900.93 L1277.46,899.43 L1277.53,897.93 L1277.60,896.43 L1277.66,894.92 L1277.73,893.42 L1277.80,891.92 L1277.86,890.42 L1277.93,888.92 L1278.00,887.42 L1278.07,885.92 L1278.13,884.41 L1278.20,882.91 L1278.26,881.41 L1278.33,879.91 L1278.40,878.41 L1278.46,876.91 L1278.53,875.41 L1278.60,873.91 L1278.66,872.40 L1278.73,870.90 L1278.79,869.40 L1278.86,867.90 L1278.93,866.40 L1278.99,864.90 L1279.06,863.40 L1279.13,861.90 L1279.19,860.40 L1279.26,858.89 L1279.32,857.39 L1279.39,855.89 L1279.46,854.39 L1279.52,852.89 L1279.59,851.39 L1279.66,849.89 L1279.72,848.39 L1279.79,846.89 L1279.86,845.38 L1279.92,843.88 L1279.99,842.38 L1280.06,840.88 L1280.12,839.38 L1280.19,837.88 L1280.26,836.38 L1280.33,834.88 L1280.40,833.38 L1280.46,831.88 L1280.53,830.38 L1280.60,828.87 L1280.67,827.37 L1280.74,825.87 L1280.81,824.37 L1280.88,822.87 L1280.95,821.37 L1281.02,819.87 L1281.09,818.37 L1281.16,816.87 L1281.23,815.37 L1281.30,813.87 L1281.37,812.37 L1281.44,810.87 L1281.51,809.36 L1281.58,807.86 L1281.66,806.36 L1281.73,804.86 L1281.80,803.36 L1281.87,801.86 L1281.95,800.36 L1282.02,798.86 L1282.10,797.36 L1282.17,795.86 L1282.25,794.36 L1282.32,792.86 L1282.40,791.36 L1282.47,789.86 L1282.55,788.36 L1282.63,786.86 L1282.70,785.36 L1282.78,783.86 L1282.86,782.36 L1282.94,780.86 L1283.02,779.35 L1283.10,777.85 L1283.18,776.35 L1283.26,774.85 L1283.34,773.35 L1283.42,771.85 L1283.50,770.35 L1283.59,768.85 L1283.67,767.35 L1283.75,765.85 L1283.84,764.35 L1283.92,762.85 L1284.01,761.35 L1284.09,759.85 L1284.18,758.35 L1284.26,756.85 L1284.35,755.35 L1284.44,753.85 L1284.53,752.35 L1284.62,750.85 L1284.71,749.35 L1284.80,747.85 L1284.89,746.35 L1284.98,744.85 L1285.07,743.35 L1285.17,741.86 L1285.26,740.36 L1285.35,738.86 L1285.45,737.36 L1285.54,735.86 L1285.64,734.36 L1285.74,732.86 L1285.84,731.36 L1285.93,729.86 L1286.03,728.36 L1286.13,726.86 L1286.23,725.36 L1286.33,723.86 L1286.44,722.36 L1286.54,720.86 L1286.64,719.36 L1286.75,717.86 L1286.85,716.36 L1286.96,714.87 L1287.06,713.37 L1287.17,711.87 L1287.28,710.37 L1287.39,708.87 L1287.50,707.37 L1287.61,705.87 L1287.72,704.37 L1287.83,702.87 L1287.95,701.37 L1288.06,699.88 L1288.18,698.38 L1288.29,696.88 L1288.41,695.38 L1288.53,693.88 L1288.65,692.38 L1288.76,690.88 L1288.89,689.38 L1289.01,687.89 L1289.13,686.39 L1289.25,684.89 L1289.38,683.39 L1289.50,681.89 L1289.63,680.39 L1289.75,678.89 L1289.88,677.40 L1290.01,675.90 L1290.14,674.40 L1290.27,672.90 L1290.40,671.40 L1290.54,669.90 L1290.67,668.41 L1290.81,666.91 L1290.94,665.41 L1291.08,663.91 L1291.22,662.41 L1291.36,660.92 L1291.50,659.42 L1291.64,657.92 L1291.78,656.42 L1291.93,654.92 L1292.07,653.43 L1292.22,651.93 L1292.37,650.43 L1292.52,648.94 L1292.67,647.44 L1292.82,645.94 L1292.98,644.45 L1293.14,642.95 L1293.29,641.45 L1293.45,639.96 L1293.61,638.46 L1293.77,636.97 L1293.94,635.47 L1294.10,633.97 L1294.27,632.48 L1294.44,630.99 L1294.61,629.49 L1294.79,628.00 L1294.96,626.50 L1295.14,625.01 L1295.32,623.52 L1295.50,622.02 L1295.68,620.53 L1295.87,619.04 L1296.05,617.55 L1296.24,616.05 L1296.43,614.56 L1296.63,613.07 L1296.82,611.58 L1297.02,610.09 L1297.22,608.60 L1297.42,607.11 L1297.63,605.62 L1297.84,604.13 L1298.05,602.64 L1298.26,601.16 L1298.47,599.67 L1298.69,598.18 L1298.91,596.70 L1299.13,595.21 L1299.36,593.72 L1299.58,592.24 L1299.81,590.75 L1300.05,589.27 L1300.28,587.79 L1300.52,586.30 L1300.76,584.82 L1301.00,583.34 L1301.25,581.86 L1301.50,580.37 L1301.75,578.89 L1302.01,577.41 L1302.27,575.93 L1302.53,574.46 L1302.79,572.98 L1303.06,571.50 L1303.33,570.02 L1303.61,568.55 L1303.88,567.07 L1304.16,565.60 L1304.45,564.12 L1304.73,562.65 L1305.02,561.17 L1305.32,559.70 L1305.61,558.23 L1305.91,556.76 L1306.22,555.29 L1306.52,553.82 L1306.83,552.35 L1307.15,550.88 L1307.47,549.41 L1307.79,547.95 L1308.11,546.48 L1308.44,545.02 L1308.77,543.55 L1309.11,542.09 L1309.45,540.62 L1309.79,539.16 L1310.14,537.70 L1310.49,536.24 L1310.84,534.78 L1311.20,533.32 L1311.57,531.86 L1311.94,530.41 L1312.31,528.95 L1312.69,527.50 L1313.07,526.05 L1313.45,524.60 L1313.85,523.15 L1314.24,521.70 L1314.65,520.25 L1315.05,518.81 L1315.47,517.36 L1315.89,515.92 L1316.31,514.48 L1316.74,513.04 L1317.18,511.61 L1317.62,510.17 L1318.07,508.74 L1318.52,507.31 L1318.98,505.89 L1319.45,504.46 L1319.93,503.04 L1320.41,501.62 L1320.89,500.20 L1321.39,498.78 L1321.89,497.37 L1322.40,495.96 L1322.92,494.55 L1323.44,493.15 L1323.97,491.75 L1324.51,490.35 L1325.05,488.95 L1325.61,487.56 L1326.17,486.17 L1326.74,484.78 L1327.32,483.40 L1327.91,482.02 L1328.50,480.64 L1329.10,479.27 L1329.72,477.90 L1330.34,476.53 L1330.97,475.17 L1331.61,473.81 L1332.25,472.45 L1332.91,471.10 L1333.58,469.75 L1334.25,468.41 L1334.94,467.06 L1335.63,465.73 L1336.34,464.40 L1337.05,463.07 L1337.78,461.74 L1338.51,460.42 L1339.26,459.11 L1340.01,457.80 L1340.77,456.50 L1341.55,455.20 L1342.33,453.90 L1343.12,452.62 L1343.93,451.33 L1344.74,450.06 L1345.56,448.79 L1346.39,447.53 L1347.24,446.27 L1348.09,445.02 L1348.95,443.78 L1349.82,442.55 L1350.70,441.32 L1351.60,440.10 L1352.50,438.89 L1353.41,437.68 L1354.33,436.49 L1355.26,435.30 L1356.20,434.12 L1357.16,432.95 L1358.12,431.79 L1359.09,430.64 L1360.07,429.50 L1361.06,428.37 L1362.06,427.24 L1363.07,426.13 L1364.09,425.03 L1365.12,423.93 L1366.17,422.85 L1367.22,421.78 L1368.27,420.71 L1369.34,419.66 L1370.42,418.61 L1371.50,417.57 L1372.59,416.54 L1373.68,415.52 L1374.79,414.50 L1375.89,413.48 L1377.00,412.47 L1378.12,411.47 L1379.23,410.47 L1380.35,409.47 L1381.48,408.47 L1382.60,407.48 L1383.73,406.49 L1384.86,405.50 L1385.98,404.50 L1387.11,403.51 L1388.24,402.52 L1389.36,401.53 L1390.48,400.53 L1391.60,399.54 L1392.72,398.54 L1393.83,397.53 L1394.94,396.52 L1396.05,395.51 L1397.14,394.49 L1398.24,393.47 L1399.33,392.44 L1400.41,391.41 L1401.49,390.37 L1402.56,389.32 L1403.63,388.28 L1404.69,387.22 L1405.75,386.16 L1406.80,385.10 L1407.85,384.03 L1408.90,382.95 L1409.94,381.88 L1410.97,380.79 L1412.01,379.71 L1413.03,378.62 L1414.06,377.52 L1415.08,376.42 L1416.10,375.31 L1417.11,374.21 L1418.12,373.09 L1419.13,371.98 L1420.13,370.86 L1421.14,369.73 L1422.13,368.61 L1423.13,367.48 L1424.12,366.34 L1425.11,365.20 L1426.10,364.06 L1427.09,362.92 L1428.07,361.77 L1429.05,360.62 L1430.03,359.47 L1431.01,358.31 L1431.99,357.15 L1432.96,355.99 L1433.93,354.82 L1434.90,353.65 L1435.87,352.48 L1436.84,351.31 L1437.81,350.14 L1438.79,348.97 L1439.76,347.81 L1440.74,346.65 L1441.72,345.50 L1442.71,344.35 L1443.70,343.22 L1444.70,342.11 L1445.71,341.01 L1446.73,339.92 L1447.76,338.86 L1448.81,337.81 L1449.86,336.79 L1450.93,335.79 L1452.01,334.81 L1453.11,333.87 L1454.23,332.95 L1455.36,332.07 L1456.51,331.22 L1457.68,330.40 L1458.88,329.62 L1460.09,328.88 L1461.33,328.18 L1462.59,327.53 L1463.87,326.91 L1465.18,326.34 L1466.52,325.82 L1467.87,325.33 L1469.25,324.88 L1470.65,324.47 L1472.06,324.09 L1473.50,323.74 L1474.95,323.43 L1476.41,323.14 L1477.89,322.88 L1479.38,322.64 L1480.89,322.43 L1482.40,322.24 L1483.93,322.07 L1485.46,321.91 L1487.00,321.77 L1488.55,321.64 L1490.10,321.52 L1491.65,321.41 L1493.21,321.31 L1494.76,321.21 L1496.32,321.12 L1497.88,321.03 L1499.43,320.93 L1500.99,320.84 L1502.53,320.74 L1504.07,320.64 L1505.61,320.52 L1507.14,320.40 L1508.66,320.27 L1510.17,320.12 L1511.68,319.96 L1513.19,319.79 L1514.68,319.60 L1516.17,319.40 L1517.65,319.18 L1519.12,318.94 L1520.59,318.67 L1522.05,318.39 L1523.50,318.08 L1524.94,317.75 L1526.38,317.39 L1527.81,317.01 L1529.23,316.60 L1530.64,316.16 L1532.04,315.68 L1533.44,315.18 L1534.82,314.64 L1536.20,314.07 L1537.57,313.46 L1538.93,312.82 L1540.28,312.14 L1541.63,311.42 L1542.96,310.65 L1544.28,309.85 L1545.60,309.00" stroke="#b171e0" stroke-width="8.0"/>
</g>
<text transform="translate(219.5,124.2) scale(1.25,1)" font-family="'Liberation Sans', Arial, sans-serif" font-size="45.5" text-anchor="end" fill="#000" stroke="#000" stroke-width="0.55">0</text>
<text transform="translate(219.5,320.5) scale(1.25,1)" font-family="'Liberation Sans', Arial, sans-serif" font-size="45.5" text-anchor="end" fill="#000" stroke="#000" stroke-width="0.55">-10</text>
<text transform="translate(219.5,516.8) scale(1.25,1)" font-family="'Liberation Sans', Arial, sans-serif" font-size="45.5" text-anchor="end" fill="#000" stroke="#000" stroke-width="0.55">-20</text>
<text transform="translate(219.5,713.1) scale(1.25,1)" font-family="'Liberation Sans', Arial, sans-serif" font-size="45.5" text-anchor="end" fill="#000" stroke="#000" stroke-width="0.55">-30</text>
<text transform="translate(219.5,909.4) scale(1.25,1)" font-family="'Liberation Sans', Arial, sans-serif" font-size="45.5" text-anchor="end" fill="#000" stroke="#000" stroke-width="0.55">-40</text>
<text transform="translate(219.5,1105.7) scale(1.25,1)" font-family="'Liberation Sans', Arial, sans-serif" font-size="45.5" text-anchor="end" fill="#000" stroke="#000" stroke-width="0.55">-50</text>
<text transform="translate(264,1162) scale(1.25,1)" font-family="'Liberation Sans', Arial, sans-serif" font-size="45.5" text-anchor="middle" fill="#000" stroke="#000" stroke-width="0.55">2</text>
<text transform="translate(634.6,1162) scale(1.25,1)" font-family="'Liberation Sans', Arial, sans-serif" font-size="45.5" text-anchor="middle" fill="#000" stroke="#000" stroke-width="0.55">4</text>
<text transform="translate(1005.2,1162) scale(1.25,1)" font-family="'Liberation Sans', Arial, sans-serif" font-size="45.5" text-anchor="middle" fill="#000" stroke="#000" stroke-width="0.55">6</text>
<text transform="translate(1375.8,1162) scale(1.25,1)" font-family="'Liberation Sans', Arial, sans-serif" font-size="45.5" text-anchor="middle" fill="#000" stroke="#000" stroke-width="0.55">8</text>
<text transform="translate(1746.4,1162) scale(1.25,1)" font-family="'Liberation Sans', Arial, sans-serif" font-size="45.5" text-anchor="middle" fill="#000" stroke="#000" stroke-width="0.55">10</text>
<text transform="translate(1098.8,1248.3) scale(1.25,1)" font-family="'Liberation Sans', Arial, sans-serif" font-size="56.5" text-anchor="middle" fill="#000" stroke="#000" stroke-width="0.55">Freq[GHz]</text>
<text transform="translate(58,525.5) rotate(-90) scale(1,1.25)" font-family="'Liberation Sans', Arial, sans-serif" font-size="56.3" text-anchor="middle" fill="#000" stroke="#000" stroke-width="0.3">dB(S(1,1))</text>
<rect x="366" y="790" width="544" height="246.5" fill="#fff" stroke="#6a6a6a" stroke-width="3"/>
<g transform="scale(1.25,1)" fill="none" stroke-linecap="butt">
<circle cx="298.08" cy="817" r="4.2" fill="#505050"/>
<circle cx="312.64" cy="817" r="4.2" fill="#505050"/>
<circle cx="327.20" cy="817" r="4.2" fill="#505050"/>
<circle cx="341.76" cy="817" r="4.2" fill="#505050"/>
<circle cx="356.32" cy="817" r="4.2" fill="#505050"/>
<circle cx="370.88" cy="817" r="4.2" fill="#505050"/>
<rect x="293.60" y="861.90" width="12.80" height="8.2" rx="2.2" ry="2.2" fill="#f53b3b"/>
<rect x="337.20" y="861.90" width="13.60" height="8.2" rx="2.2" ry="2.2" fill="#f53b3b"/>
<rect x="293.60" y="909.60" width="34.80" height="8.2" rx="2.2" ry="2.2" fill="#176fe6"/>
<rect x="345.60" y="909.60" width="13.28" height="8.2" rx="2.2" ry="2.2" fill="#176fe6"/>
<rect x="374.88" y="909.60" width="13.52" height="8.2" rx="2.2" ry="2.2" fill="#176fe6"/>
<rect x="293.60" y="957.90" width="39.60" height="8.2" rx="2.2" ry="2.2" fill="#2aad67"/>
<rect x="367.20" y="957.90" width="21.60" height="8.2" rx="2.2" ry="2.2" fill="#2aad67"/>
<rect x="293.60" y="1006.20" width="95.20" height="8.8" rx="2.2" ry="2.2" fill="#b171e0"/>
</g>
<text transform="translate(495.4,830.5) scale(1.25,1)" font-family="'Liberation Sans', Arial, sans-serif" font-size="38.9" text-anchor="start" fill="#000" stroke="#000" stroke-width="0.55" word-spacing="3.2">Initiator</text>
<text transform="translate(495.4,879.5) scale(1.25,1)" font-family="'Liberation Sans', Arial, sans-serif" font-size="38.9" text-anchor="start" fill="#000" stroke="#000" stroke-width="0.55" word-spacing="3.2">Iteration1</text>
<text transform="translate(495.4,927.2) scale(1.25,1)" font-family="'Liberation Sans', Arial, sans-serif" font-size="38.9" text-anchor="start" fill="#000" stroke="#000" stroke-width="0.55" word-spacing="3.2">Iteration2</text>
<text transform="translate(495.4,975.5) scale(1.25,1)" font-family="'Liberation Sans', Arial, sans-serif" font-size="38.9" text-anchor="start" fill="#000" stroke="#000" stroke-width="0.55" word-spacing="3.2">Iteration3</text>
<text transform="translate(495.4,1024.1) scale(1.25,1)" font-family="'Liberation Sans', Arial, sans-serif" font-size="38.9" text-anchor="start" fill="#000" stroke="#000" stroke-width="0.55" word-spacing="3.2">Proposed Antenna</text>
</g>
</svg>
</div>
</body></html>
